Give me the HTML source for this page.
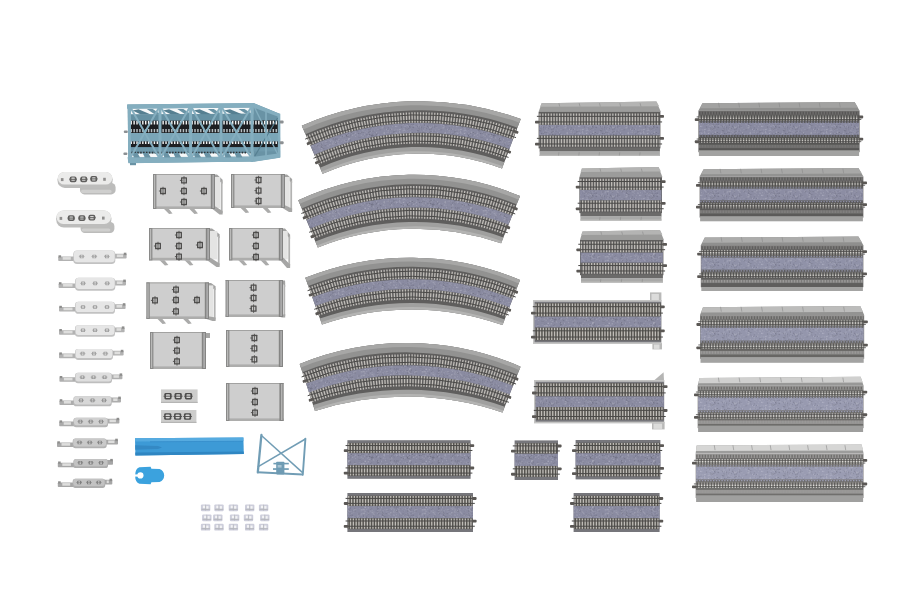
<!DOCTYPE html>
<html lang="en"><head><meta charset="utf-8"><title>Double-track viaduct set</title>
<style>html,body{margin:0;padding:0;background:#fff}body{width:900px;height:600px;overflow:hidden}svg{display:block}</style></head><body>
<svg width="900" height="600" viewBox="0 0 900 600">
<rect width="900" height="600" fill="#ffffff"/>
<defs><pattern id="speck" width="61" height="23" patternUnits="userSpaceOnUse"><rect x="19.43" y="3.32" width="1.2" height="1.2" fill="#ffffff" opacity="0.08"/><rect x="5.65" y="12.82" width="0.8" height="0.8" fill="#d0d0e6" opacity="0.1"/><rect x="26.02" y="1.54" width="0.8" height="0.8" fill="#ffffff" opacity="0.14"/><rect x="49.61" y="2.72" width="1.2" height="1.2" fill="#ffffff" opacity="0.15"/><rect x="56.86" y="12.7" width="0.8" height="0.8" fill="#20202c" opacity="0.08"/><rect x="2.79" y="18.89" width="1.2" height="1.2" fill="#20202c" opacity="0.12"/><rect x="7.07" y="6.79" width="1.2" height="1.2" fill="#ffffff" opacity="0.08"/><rect x="38.33" y="8.19" width="1.2" height="1.2" fill="#d0d0e6" opacity="0.16"/><rect x="3.58" y="4.53" width="1.0" height="1.0" fill="#d0d0e6" opacity="0.13"/><rect x="27.94" y="20.32" width="0.8" height="0.8" fill="#20202c" opacity="0.11"/><rect x="41.94" y="5.37" width="1.0" height="1.0" fill="#d0d0e6" opacity="0.11"/><rect x="52.51" y="16.05" width="0.8" height="0.8" fill="#20202c" opacity="0.15"/><rect x="7.08" y="9.2" width="1.0" height="1.0" fill="#20202c" opacity="0.09"/><rect x="25.3" y="21.16" width="1.2" height="1.2" fill="#ffffff" opacity="0.17"/><rect x="47.35" y="18" width="1.2" height="1.2" fill="#20202c" opacity="0.16"/><rect x="29.8" y="17.53" width="1.0" height="1.0" fill="#ffffff" opacity="0.18"/><rect x="28.45" y="14.61" width="1.0" height="1.0" fill="#ffffff" opacity="0.17"/><rect x="38.83" y="21.85" width="1.0" height="1.0" fill="#20202c" opacity="0.11"/><rect x="53.22" y="7.63" width="1.2" height="1.2" fill="#20202c" opacity="0.12"/><rect x="7.03" y="1.3" width="0.8" height="0.8" fill="#20202c" opacity="0.09"/><rect x="23.87" y="20.17" width="1.0" height="1.0" fill="#20202c" opacity="0.08"/><rect x="24.1" y="6.11" width="1.2" height="1.2" fill="#ffffff" opacity="0.18"/><rect x="16.71" y="9.14" width="1.0" height="1.0" fill="#20202c" opacity="0.16"/><rect x="57.46" y="3.32" width="1.2" height="1.2" fill="#ffffff" opacity="0.09"/><rect x="14" y="10.67" width="1.0" height="1.0" fill="#d0d0e6" opacity="0.09"/><rect x="0.25" y="9.22" width="1.0" height="1.0" fill="#20202c" opacity="0.15"/><rect x="57.19" y="15.19" width="1.2" height="1.2" fill="#d0d0e6" opacity="0.19"/><rect x="40.57" y="1.19" width="1.0" height="1.0" fill="#d0d0e6" opacity="0.12"/><rect x="23.65" y="10.59" width="0.8" height="0.8" fill="#20202c" opacity="0.08"/><rect x="59.08" y="9.69" width="0.8" height="0.8" fill="#ffffff" opacity="0.11"/><rect x="6.14" y="12.47" width="1.0" height="1.0" fill="#d0d0e6" opacity="0.08"/><rect x="36.82" y="1.55" width="0.8" height="0.8" fill="#ffffff" opacity="0.15"/><rect x="38.06" y="21.02" width="0.8" height="0.8" fill="#d0d0e6" opacity="0.12"/><rect x="6.92" y="10.74" width="1.0" height="1.0" fill="#20202c" opacity="0.13"/><rect x="5.15" y="2.25" width="1.0" height="1.0" fill="#20202c" opacity="0.17"/><rect x="49.73" y="3.55" width="1.2" height="1.2" fill="#ffffff" opacity="0.1"/><rect x="21.71" y="15.18" width="1.0" height="1.0" fill="#ffffff" opacity="0.17"/><rect x="58.71" y="18.99" width="0.8" height="0.8" fill="#20202c" opacity="0.14"/><rect x="21.34" y="4.9" width="1.0" height="1.0" fill="#d0d0e6" opacity="0.17"/><rect x="38.19" y="13.49" width="1.0" height="1.0" fill="#ffffff" opacity="0.17"/><rect x="44.39" y="4.99" width="1.2" height="1.2" fill="#d0d0e6" opacity="0.13"/><rect x="1.74" y="0.61" width="0.8" height="0.8" fill="#20202c" opacity="0.13"/><rect x="41.55" y="21.04" width="1.2" height="1.2" fill="#20202c" opacity="0.18"/><rect x="59.28" y="21.01" width="0.8" height="0.8" fill="#20202c" opacity="0.08"/><rect x="13.61" y="4.33" width="1.2" height="1.2" fill="#ffffff" opacity="0.13"/><rect x="50.43" y="10.55" width="0.8" height="0.8" fill="#20202c" opacity="0.17"/><rect x="50.08" y="2.64" width="0.8" height="0.8" fill="#20202c" opacity="0.17"/><rect x="28.68" y="3.93" width="1.2" height="1.2" fill="#20202c" opacity="0.08"/><rect x="23.75" y="8.83" width="0.8" height="0.8" fill="#ffffff" opacity="0.16"/><rect x="59.59" y="0.61" width="1.2" height="1.2" fill="#d0d0e6" opacity="0.19"/><rect x="8.77" y="18.18" width="1.0" height="1.0" fill="#20202c" opacity="0.16"/><rect x="9.35" y="12.06" width="1.2" height="1.2" fill="#ffffff" opacity="0.07"/><rect x="38.98" y="11.58" width="0.8" height="0.8" fill="#ffffff" opacity="0.13"/><rect x="49.57" y="4.64" width="1.2" height="1.2" fill="#20202c" opacity="0.1"/><rect x="14.43" y="12.9" width="0.8" height="0.8" fill="#20202c" opacity="0.14"/><rect x="3.65" y="16.28" width="1.2" height="1.2" fill="#20202c" opacity="0.16"/><rect x="25.24" y="20.19" width="0.8" height="0.8" fill="#d0d0e6" opacity="0.09"/><rect x="31.41" y="0.41" width="1.2" height="1.2" fill="#20202c" opacity="0.17"/><rect x="0.24" y="17.58" width="1.2" height="1.2" fill="#ffffff" opacity="0.09"/><rect x="43.51" y="12.24" width="1.2" height="1.2" fill="#20202c" opacity="0.16"/><rect x="33.33" y="17.25" width="0.8" height="0.8" fill="#ffffff" opacity="0.18"/><rect x="14.91" y="6.09" width="1.2" height="1.2" fill="#ffffff" opacity="0.14"/><rect x="1.67" y="19.67" width="1.2" height="1.2" fill="#ffffff" opacity="0.13"/><rect x="58.4" y="13.34" width="1.0" height="1.0" fill="#ffffff" opacity="0.16"/><rect x="30.49" y="17.76" width="1.2" height="1.2" fill="#d0d0e6" opacity="0.19"/><rect x="31.39" y="19.27" width="0.8" height="0.8" fill="#20202c" opacity="0.19"/><rect x="50.4" y="3.02" width="1.0" height="1.0" fill="#ffffff" opacity="0.12"/><rect x="4.35" y="5.29" width="1.0" height="1.0" fill="#ffffff" opacity="0.1"/><rect x="47.04" y="19.73" width="1.2" height="1.2" fill="#ffffff" opacity="0.19"/><rect x="39.62" y="3.15" width="0.8" height="0.8" fill="#ffffff" opacity="0.2"/><rect x="44.8" y="2.07" width="1.2" height="1.2" fill="#20202c" opacity="0.09"/><rect x="49.95" y="3.55" width="1.0" height="1.0" fill="#20202c" opacity="0.2"/><rect x="20.35" y="4.31" width="1.0" height="1.0" fill="#20202c" opacity="0.08"/><rect x="1.17" y="12.19" width="1.0" height="1.0" fill="#20202c" opacity="0.16"/><rect x="19.89" y="13.73" width="0.8" height="0.8" fill="#d0d0e6" opacity="0.19"/><rect x="59.1" y="17.34" width="1.0" height="1.0" fill="#ffffff" opacity="0.08"/><rect x="2.38" y="17.14" width="1.0" height="1.0" fill="#20202c" opacity="0.17"/><rect x="50.98" y="14.87" width="1.2" height="1.2" fill="#20202c" opacity="0.12"/><rect x="55.15" y="12.55" width="0.8" height="0.8" fill="#20202c" opacity="0.08"/><rect x="47.98" y="4.03" width="0.8" height="0.8" fill="#ffffff" opacity="0.1"/><rect x="38.07" y="17.64" width="0.8" height="0.8" fill="#ffffff" opacity="0.15"/><rect x="4" y="18.98" width="1.2" height="1.2" fill="#20202c" opacity="0.07"/><rect x="25.07" y="20.14" width="1.2" height="1.2" fill="#d0d0e6" opacity="0.09"/><rect x="42.57" y="20.64" width="0.8" height="0.8" fill="#ffffff" opacity="0.1"/><rect x="12.11" y="6.86" width="0.8" height="0.8" fill="#20202c" opacity="0.14"/><rect x="17.4" y="11" width="0.8" height="0.8" fill="#ffffff" opacity="0.11"/><rect x="59.67" y="0.81" width="1.2" height="1.2" fill="#ffffff" opacity="0.17"/><rect x="58.68" y="11.31" width="0.8" height="0.8" fill="#ffffff" opacity="0.19"/><rect x="39.5" y="14.3" width="1.0" height="1.0" fill="#20202c" opacity="0.14"/><rect x="58.22" y="6.77" width="1.0" height="1.0" fill="#ffffff" opacity="0.2"/><rect x="11.92" y="19.4" width="1.0" height="1.0" fill="#ffffff" opacity="0.12"/><rect x="58.91" y="18.41" width="1.2" height="1.2" fill="#ffffff" opacity="0.08"/><rect x="52.79" y="9.48" width="1.0" height="1.0" fill="#ffffff" opacity="0.08"/><rect x="52.23" y="14.75" width="1.2" height="1.2" fill="#20202c" opacity="0.15"/><rect x="17.58" y="10.11" width="0.8" height="0.8" fill="#ffffff" opacity="0.1"/><rect x="15.79" y="21.16" width="0.8" height="0.8" fill="#d0d0e6" opacity="0.11"/><rect x="57.94" y="6.81" width="1.0" height="1.0" fill="#20202c" opacity="0.09"/><rect x="22.9" y="10.44" width="0.8" height="0.8" fill="#d0d0e6" opacity="0.16"/><rect x="30.28" y="0.11" width="0.8" height="0.8" fill="#20202c" opacity="0.18"/><rect x="23.97" y="0.92" width="1.2" height="1.2" fill="#ffffff" opacity="0.11"/><rect x="13.97" y="12.88" width="0.8" height="0.8" fill="#d0d0e6" opacity="0.18"/><rect x="39.45" y="15.75" width="1.0" height="1.0" fill="#d0d0e6" opacity="0.12"/><rect x="43.24" y="10.87" width="1.2" height="1.2" fill="#20202c" opacity="0.16"/><rect x="8.69" y="18.15" width="1.2" height="1.2" fill="#d0d0e6" opacity="0.15"/><rect x="42.06" y="11.12" width="1.2" height="1.2" fill="#d0d0e6" opacity="0.17"/><rect x="50.1" y="17.7" width="1.2" height="1.2" fill="#d0d0e6" opacity="0.17"/><rect x="40.97" y="15.25" width="0.8" height="0.8" fill="#ffffff" opacity="0.08"/><rect x="7.99" y="7.94" width="1.0" height="1.0" fill="#ffffff" opacity="0.12"/><rect x="33.51" y="13.81" width="1.0" height="1.0" fill="#d0d0e6" opacity="0.16"/><rect x="15.83" y="10.05" width="1.2" height="1.2" fill="#ffffff" opacity="0.17"/><rect x="53.87" y="2.02" width="1.2" height="1.2" fill="#d0d0e6" opacity="0.08"/><rect x="28.43" y="17.8" width="0.8" height="0.8" fill="#20202c" opacity="0.1"/><rect x="13.84" y="14.3" width="1.0" height="1.0" fill="#20202c" opacity="0.13"/><rect x="4.6" y="20.03" width="1.2" height="1.2" fill="#20202c" opacity="0.17"/><rect x="37.97" y="4.36" width="1.0" height="1.0" fill="#d0d0e6" opacity="0.09"/><rect x="39.09" y="15.24" width="0.8" height="0.8" fill="#d0d0e6" opacity="0.14"/><rect x="28.95" y="10.69" width="1.2" height="1.2" fill="#ffffff" opacity="0.16"/><rect x="29.38" y="15.6" width="1.0" height="1.0" fill="#20202c" opacity="0.13"/><rect x="46.03" y="21.85" width="0.8" height="0.8" fill="#d0d0e6" opacity="0.1"/><rect x="56.18" y="0.39" width="1.2" height="1.2" fill="#20202c" opacity="0.08"/><rect x="58.09" y="9.89" width="0.8" height="0.8" fill="#20202c" opacity="0.12"/><rect x="4.48" y="1.99" width="1.0" height="1.0" fill="#d0d0e6" opacity="0.1"/><rect x="7.96" y="18.04" width="0.8" height="0.8" fill="#d0d0e6" opacity="0.11"/><rect x="42.2" y="5.09" width="0.8" height="0.8" fill="#20202c" opacity="0.12"/><rect x="0.22" y="10.82" width="1.2" height="1.2" fill="#20202c" opacity="0.12"/><rect x="8.44" y="7.57" width="1.0" height="1.0" fill="#20202c" opacity="0.09"/><rect x="0.1" y="16.52" width="0.8" height="0.8" fill="#20202c" opacity="0.09"/><rect x="42.78" y="19.83" width="0.8" height="0.8" fill="#20202c" opacity="0.1"/><rect x="23.57" y="21.97" width="1.0" height="1.0" fill="#d0d0e6" opacity="0.08"/><rect x="45.34" y="18.79" width="1.2" height="1.2" fill="#20202c" opacity="0.08"/><rect x="17.14" y="20.58" width="1.0" height="1.0" fill="#ffffff" opacity="0.2"/><rect x="30.66" y="4.18" width="1.0" height="1.0" fill="#20202c" opacity="0.17"/><rect x="53.06" y="17.86" width="1.2" height="1.2" fill="#20202c" opacity="0.19"/><rect x="32.95" y="15.83" width="1.0" height="1.0" fill="#ffffff" opacity="0.19"/><rect x="27.05" y="16.56" width="1.2" height="1.2" fill="#20202c" opacity="0.13"/><rect x="7.64" y="10.39" width="1.0" height="1.0" fill="#20202c" opacity="0.11"/><rect x="44.34" y="21.48" width="0.8" height="0.8" fill="#20202c" opacity="0.12"/><rect x="18.05" y="12.26" width="1.2" height="1.2" fill="#20202c" opacity="0.09"/><rect x="9.7" y="4.57" width="1.0" height="1.0" fill="#20202c" opacity="0.14"/><rect x="54.38" y="21.92" width="1.2" height="1.2" fill="#20202c" opacity="0.13"/><rect x="11.54" y="2" width="1.0" height="1.0" fill="#20202c" opacity="0.14"/><rect x="14.35" y="5.68" width="0.8" height="0.8" fill="#d0d0e6" opacity="0.1"/><rect x="44.98" y="9.08" width="0.8" height="0.8" fill="#20202c" opacity="0.17"/><rect x="22.61" y="7.44" width="1.2" height="1.2" fill="#ffffff" opacity="0.13"/><rect x="58.06" y="2.77" width="0.8" height="0.8" fill="#d0d0e6" opacity="0.14"/><rect x="5.56" y="19.73" width="1.0" height="1.0" fill="#20202c" opacity="0.12"/><rect x="25.91" y="6.86" width="1.0" height="1.0" fill="#ffffff" opacity="0.09"/><rect x="42.57" y="19.71" width="1.0" height="1.0" fill="#20202c" opacity="0.2"/><rect x="0.01" y="8.61" width="1.0" height="1.0" fill="#d0d0e6" opacity="0.18"/><rect x="14.91" y="2.4" width="1.2" height="1.2" fill="#ffffff" opacity="0.09"/><rect x="6.53" y="18.16" width="0.8" height="0.8" fill="#20202c" opacity="0.08"/><rect x="0.08" y="2.76" width="1.2" height="1.2" fill="#d0d0e6" opacity="0.19"/><rect x="42.9" y="21.17" width="1.0" height="1.0" fill="#20202c" opacity="0.14"/><rect x="41.91" y="2.47" width="1.2" height="1.2" fill="#ffffff" opacity="0.11"/><rect x="11.5" y="5.74" width="1.2" height="1.2" fill="#d0d0e6" opacity="0.07"/><rect x="18.09" y="10.14" width="0.8" height="0.8" fill="#20202c" opacity="0.15"/><rect x="28.52" y="5.16" width="1.0" height="1.0" fill="#ffffff" opacity="0.07"/><rect x="42.28" y="6.76" width="1.2" height="1.2" fill="#ffffff" opacity="0.1"/><rect x="38.83" y="1.78" width="1.0" height="1.0" fill="#ffffff" opacity="0.16"/><rect x="13.61" y="0.75" width="1.0" height="1.0" fill="#20202c" opacity="0.16"/><rect x="40.95" y="4.36" width="1.2" height="1.2" fill="#20202c" opacity="0.17"/><rect x="4.05" y="10.91" width="0.8" height="0.8" fill="#ffffff" opacity="0.11"/><rect x="13.85" y="4.87" width="1.2" height="1.2" fill="#20202c" opacity="0.08"/><rect x="29.75" y="4.12" width="1.2" height="1.2" fill="#ffffff" opacity="0.13"/><rect x="3.39" y="13.09" width="0.8" height="0.8" fill="#20202c" opacity="0.08"/><rect x="58.45" y="3.12" width="0.8" height="0.8" fill="#ffffff" opacity="0.16"/><rect x="23.6" y="19.76" width="0.8" height="0.8" fill="#20202c" opacity="0.17"/><rect x="55.9" y="7.24" width="1.2" height="1.2" fill="#ffffff" opacity="0.15"/><rect x="44.78" y="0.7" width="1.0" height="1.0" fill="#20202c" opacity="0.18"/><rect x="26.55" y="2.4" width="1.0" height="1.0" fill="#ffffff" opacity="0.11"/><rect x="25.21" y="19.47" width="0.8" height="0.8" fill="#d0d0e6" opacity="0.2"/><rect x="22.81" y="16.91" width="1.0" height="1.0" fill="#20202c" opacity="0.18"/><rect x="5.27" y="15.52" width="1.0" height="1.0" fill="#ffffff" opacity="0.12"/><rect x="11.58" y="8.01" width="1.0" height="1.0" fill="#20202c" opacity="0.07"/><rect x="14.88" y="13.76" width="0.8" height="0.8" fill="#20202c" opacity="0.08"/><rect x="27.84" y="17.67" width="1.2" height="1.2" fill="#ffffff" opacity="0.1"/><rect x="3.77" y="13.32" width="1.2" height="1.2" fill="#20202c" opacity="0.11"/><rect x="2.62" y="16.42" width="1.0" height="1.0" fill="#20202c" opacity="0.19"/><rect x="0.23" y="16.62" width="0.8" height="0.8" fill="#ffffff" opacity="0.07"/><rect x="6.44" y="15.74" width="1.0" height="1.0" fill="#20202c" opacity="0.19"/><rect x="47.39" y="20.1" width="1.0" height="1.0" fill="#20202c" opacity="0.09"/><rect x="10.98" y="17.66" width="0.8" height="0.8" fill="#20202c" opacity="0.18"/><rect x="36.44" y="7.21" width="1.2" height="1.2" fill="#20202c" opacity="0.13"/><rect x="4.74" y="4.34" width="0.8" height="0.8" fill="#ffffff" opacity="0.1"/><rect x="38.97" y="10.6" width="1.0" height="1.0" fill="#d0d0e6" opacity="0.11"/><rect x="53.01" y="21.73" width="0.8" height="0.8" fill="#20202c" opacity="0.15"/><rect x="5.79" y="10.97" width="0.8" height="0.8" fill="#20202c" opacity="0.09"/><rect x="25.01" y="13.65" width="1.2" height="1.2" fill="#ffffff" opacity="0.17"/><rect x="45.57" y="17.15" width="1.2" height="1.2" fill="#20202c" opacity="0.11"/><rect x="16.06" y="5.59" width="0.8" height="0.8" fill="#20202c" opacity="0.1"/><rect x="11.14" y="5.18" width="1.2" height="1.2" fill="#20202c" opacity="0.18"/><rect x="11.3" y="1.43" width="1.2" height="1.2" fill="#20202c" opacity="0.2"/><rect x="31.58" y="14.29" width="0.8" height="0.8" fill="#ffffff" opacity="0.15"/><rect x="6.14" y="10.44" width="1.0" height="1.0" fill="#ffffff" opacity="0.18"/><rect x="2.42" y="6.46" width="1.2" height="1.2" fill="#ffffff" opacity="0.08"/><rect x="58.38" y="12.83" width="0.8" height="0.8" fill="#ffffff" opacity="0.12"/><rect x="26.95" y="5.72" width="1.2" height="1.2" fill="#ffffff" opacity="0.08"/><rect x="42.58" y="7.69" width="0.8" height="0.8" fill="#ffffff" opacity="0.12"/><rect x="2.65" y="22" width="1.2" height="1.2" fill="#ffffff" opacity="0.15"/><rect x="54.84" y="17.92" width="1.0" height="1.0" fill="#20202c" opacity="0.12"/><rect x="11.11" y="6.87" width="1.0" height="1.0" fill="#ffffff" opacity="0.07"/><rect x="32.88" y="1.39" width="1.2" height="1.2" fill="#ffffff" opacity="0.17"/><rect x="33.01" y="14.06" width="1.0" height="1.0" fill="#ffffff" opacity="0.15"/><rect x="41.72" y="9.02" width="1.0" height="1.0" fill="#20202c" opacity="0.16"/><rect x="57.19" y="6.87" width="1.0" height="1.0" fill="#d0d0e6" opacity="0.18"/><rect x="24.99" y="19.01" width="1.0" height="1.0" fill="#20202c" opacity="0.15"/><rect x="43.68" y="4.48" width="0.8" height="0.8" fill="#ffffff" opacity="0.13"/><rect x="25.43" y="18.05" width="1.0" height="1.0" fill="#20202c" opacity="0.15"/><rect x="27.65" y="3.58" width="0.8" height="0.8" fill="#ffffff" opacity="0.08"/><rect x="38.44" y="20.02" width="1.0" height="1.0" fill="#ffffff" opacity="0.14"/><rect x="44.23" y="3.78" width="1.2" height="1.2" fill="#20202c" opacity="0.11"/><rect x="10.31" y="1.48" width="0.8" height="0.8" fill="#20202c" opacity="0.13"/><rect x="18.1" y="18.42" width="1.0" height="1.0" fill="#ffffff" opacity="0.2"/><rect x="18.87" y="13.37" width="1.2" height="1.2" fill="#20202c" opacity="0.08"/><rect x="37.22" y="18.14" width="0.8" height="0.8" fill="#ffffff" opacity="0.15"/><rect x="37.26" y="13.52" width="0.8" height="0.8" fill="#ffffff" opacity="0.18"/><rect x="33.93" y="0.92" width="1.0" height="1.0" fill="#d0d0e6" opacity="0.09"/><rect x="7.38" y="5.44" width="1.2" height="1.2" fill="#ffffff" opacity="0.08"/><rect x="50.55" y="14.79" width="1.2" height="1.2" fill="#20202c" opacity="0.09"/><rect x="27.34" y="18.68" width="1.0" height="1.0" fill="#20202c" opacity="0.15"/><rect x="34.96" y="9.37" width="1.0" height="1.0" fill="#20202c" opacity="0.13"/><rect x="10.73" y="0.08" width="1.0" height="1.0" fill="#20202c" opacity="0.13"/><rect x="45.81" y="17.16" width="1.0" height="1.0" fill="#20202c" opacity="0.18"/><rect x="24.02" y="1.48" width="0.8" height="0.8" fill="#20202c" opacity="0.13"/><rect x="48.14" y="11.1" width="0.8" height="0.8" fill="#ffffff" opacity="0.08"/><rect x="4.93" y="16.14" width="1.2" height="1.2" fill="#d0d0e6" opacity="0.08"/><rect x="53.69" y="14.36" width="0.8" height="0.8" fill="#ffffff" opacity="0.07"/><rect x="59.77" y="16.11" width="1.0" height="1.0" fill="#ffffff" opacity="0.1"/><rect x="17.27" y="17.84" width="1.2" height="1.2" fill="#ffffff" opacity="0.16"/><rect x="55.84" y="1.44" width="1.0" height="1.0" fill="#20202c" opacity="0.15"/><rect x="9.53" y="19.72" width="1.0" height="1.0" fill="#20202c" opacity="0.19"/><rect x="8.61" y="11.05" width="1.0" height="1.0" fill="#20202c" opacity="0.1"/><rect x="36.95" y="5.22" width="0.8" height="0.8" fill="#20202c" opacity="0.07"/><rect x="24.21" y="14" width="1.0" height="1.0" fill="#20202c" opacity="0.16"/><rect x="10.12" y="17.27" width="0.8" height="0.8" fill="#ffffff" opacity="0.17"/><rect x="38.18" y="7.92" width="1.2" height="1.2" fill="#20202c" opacity="0.14"/><rect x="41.32" y="19.71" width="1.2" height="1.2" fill="#20202c" opacity="0.2"/><rect x="51.4" y="16.23" width="1.0" height="1.0" fill="#20202c" opacity="0.1"/><rect x="34.64" y="7.93" width="0.8" height="0.8" fill="#ffffff" opacity="0.13"/><rect x="36.92" y="21.08" width="1.0" height="1.0" fill="#20202c" opacity="0.18"/><rect x="18.6" y="21.25" width="1.0" height="1.0" fill="#d0d0e6" opacity="0.19"/><rect x="43.98" y="16.44" width="1.2" height="1.2" fill="#ffffff" opacity="0.09"/><rect x="37.54" y="9.19" width="0.8" height="0.8" fill="#20202c" opacity="0.19"/><rect x="29.3" y="13.48" width="0.8" height="0.8" fill="#ffffff" opacity="0.07"/><rect x="34.03" y="6.68" width="0.8" height="0.8" fill="#d0d0e6" opacity="0.12"/><rect x="24.79" y="6.63" width="1.2" height="1.2" fill="#ffffff" opacity="0.1"/><rect x="49.71" y="3.49" width="0.8" height="0.8" fill="#ffffff" opacity="0.19"/><rect x="42.45" y="9.92" width="1.2" height="1.2" fill="#ffffff" opacity="0.15"/><rect x="46.93" y="8.84" width="0.8" height="0.8" fill="#20202c" opacity="0.2"/><rect x="38.7" y="12.37" width="1.2" height="1.2" fill="#20202c" opacity="0.15"/><rect x="26.63" y="20.62" width="0.8" height="0.8" fill="#20202c" opacity="0.1"/><rect x="2.64" y="11.69" width="0.8" height="0.8" fill="#20202c" opacity="0.09"/><rect x="3.5" y="17.14" width="1.2" height="1.2" fill="#ffffff" opacity="0.15"/><rect x="56.46" y="3.13" width="1.2" height="1.2" fill="#ffffff" opacity="0.14"/><rect x="30.42" y="14.11" width="1.0" height="1.0" fill="#d0d0e6" opacity="0.09"/><rect x="3.83" y="13.77" width="0.8" height="0.8" fill="#20202c" opacity="0.16"/><rect x="22.51" y="9.61" width="1.2" height="1.2" fill="#20202c" opacity="0.08"/><rect x="27.15" y="4.97" width="1.2" height="1.2" fill="#ffffff" opacity="0.1"/><rect x="2.33" y="7.38" width="1.0" height="1.0" fill="#20202c" opacity="0.16"/><rect x="38.15" y="14.94" width="1.0" height="1.0" fill="#d0d0e6" opacity="0.2"/><rect x="38.52" y="21.23" width="1.2" height="1.2" fill="#ffffff" opacity="0.08"/><rect x="0.91" y="5.73" width="0.8" height="0.8" fill="#ffffff" opacity="0.18"/><rect x="56.68" y="16.42" width="1.0" height="1.0" fill="#20202c" opacity="0.09"/><rect x="19.71" y="5.26" width="1.2" height="1.2" fill="#d0d0e6" opacity="0.13"/><rect x="41.86" y="18.87" width="0.8" height="0.8" fill="#20202c" opacity="0.19"/><rect x="34.22" y="6.77" width="1.2" height="1.2" fill="#ffffff" opacity="0.12"/><rect x="4.67" y="20.04" width="0.8" height="0.8" fill="#ffffff" opacity="0.07"/><rect x="6.4" y="20.44" width="1.2" height="1.2" fill="#20202c" opacity="0.2"/><rect x="1.72" y="0.92" width="1.2" height="1.2" fill="#ffffff" opacity="0.16"/><rect x="2.8" y="18.84" width="1.2" height="1.2" fill="#20202c" opacity="0.1"/><rect x="53.48" y="1.45" width="0.8" height="0.8" fill="#20202c" opacity="0.08"/><rect x="12.19" y="0.74" width="1.2" height="1.2" fill="#ffffff" opacity="0.18"/><rect x="37.94" y="10.5" width="1.2" height="1.2" fill="#ffffff" opacity="0.08"/><rect x="12.3" y="7.02" width="1.0" height="1.0" fill="#20202c" opacity="0.1"/><rect x="15.4" y="6.22" width="1.2" height="1.2" fill="#20202c" opacity="0.19"/><rect x="30.22" y="18.73" width="1.0" height="1.0" fill="#d0d0e6" opacity="0.17"/><rect x="1.87" y="11.41" width="1.2" height="1.2" fill="#ffffff" opacity="0.12"/><rect x="2.89" y="12.45" width="1.0" height="1.0" fill="#ffffff" opacity="0.14"/><rect x="10.22" y="0.03" width="0.8" height="0.8" fill="#ffffff" opacity="0.11"/><rect x="0.26" y="10.8" width="0.8" height="0.8" fill="#20202c" opacity="0.16"/><rect x="58.03" y="13.04" width="0.8" height="0.8" fill="#d0d0e6" opacity="0.1"/><rect x="17.02" y="4.72" width="0.8" height="0.8" fill="#ffffff" opacity="0.13"/><rect x="56.32" y="16.87" width="1.2" height="1.2" fill="#20202c" opacity="0.17"/><rect x="33.68" y="2.3" width="1.0" height="1.0" fill="#20202c" opacity="0.12"/><rect x="55.71" y="19.62" width="1.2" height="1.2" fill="#ffffff" opacity="0.12"/><rect x="1.51" y="4.53" width="1.2" height="1.2" fill="#20202c" opacity="0.13"/><rect x="30.07" y="8.34" width="0.8" height="0.8" fill="#ffffff" opacity="0.19"/><rect x="31.89" y="16.6" width="1.0" height="1.0" fill="#d0d0e6" opacity="0.15"/><rect x="34.89" y="11.48" width="1.2" height="1.2" fill="#20202c" opacity="0.16"/><rect x="19.4" y="10.19" width="0.8" height="0.8" fill="#20202c" opacity="0.15"/><rect x="20.04" y="14.14" width="1.0" height="1.0" fill="#ffffff" opacity="0.14"/><rect x="18.09" y="15.47" width="0.8" height="0.8" fill="#d0d0e6" opacity="0.09"/><rect x="58.49" y="15.91" width="0.8" height="0.8" fill="#d0d0e6" opacity="0.14"/><rect x="14.17" y="21.03" width="1.2" height="1.2" fill="#20202c" opacity="0.2"/><rect x="59.7" y="3.62" width="0.8" height="0.8" fill="#ffffff" opacity="0.1"/><rect x="59.03" y="17.49" width="0.8" height="0.8" fill="#20202c" opacity="0.13"/><rect x="6.56" y="20.05" width="1.0" height="1.0" fill="#20202c" opacity="0.1"/><rect x="27.83" y="0.28" width="1.2" height="1.2" fill="#20202c" opacity="0.16"/><rect x="58.85" y="6.52" width="1.2" height="1.2" fill="#ffffff" opacity="0.09"/><rect x="44.29" y="0.12" width="1.0" height="1.0" fill="#ffffff" opacity="0.19"/><rect x="42.07" y="12.92" width="1.2" height="1.2" fill="#20202c" opacity="0.18"/><rect x="43.33" y="19.36" width="1.2" height="1.2" fill="#d0d0e6" opacity="0.18"/><rect x="10.89" y="2.73" width="1.2" height="1.2" fill="#20202c" opacity="0.11"/><rect x="42.04" y="19.68" width="1.2" height="1.2" fill="#ffffff" opacity="0.17"/><rect x="42.76" y="3.44" width="0.8" height="0.8" fill="#20202c" opacity="0.13"/><rect x="37.29" y="9.01" width="1.0" height="1.0" fill="#ffffff" opacity="0.19"/><rect x="46.69" y="8.55" width="0.8" height="0.8" fill="#20202c" opacity="0.19"/><rect x="2.29" y="11.95" width="0.8" height="0.8" fill="#ffffff" opacity="0.16"/><rect x="31.15" y="2.22" width="0.8" height="0.8" fill="#d0d0e6" opacity="0.13"/><rect x="43.04" y="11.27" width="1.0" height="1.0" fill="#20202c" opacity="0.14"/><rect x="44.53" y="10.05" width="0.8" height="0.8" fill="#ffffff" opacity="0.12"/><rect x="43.75" y="13.51" width="1.0" height="1.0" fill="#ffffff" opacity="0.1"/><rect x="23.98" y="0.29" width="1.2" height="1.2" fill="#20202c" opacity="0.19"/><rect x="41.9" y="7.75" width="1.0" height="1.0" fill="#20202c" opacity="0.08"/><rect x="44.49" y="20.68" width="1.0" height="1.0" fill="#d0d0e6" opacity="0.2"/><rect x="27.73" y="3.62" width="1.2" height="1.2" fill="#ffffff" opacity="0.18"/><rect x="11.59" y="14.13" width="0.8" height="0.8" fill="#ffffff" opacity="0.18"/><rect x="21.19" y="14.05" width="1.0" height="1.0" fill="#20202c" opacity="0.13"/><rect x="45.59" y="14.29" width="0.8" height="0.8" fill="#20202c" opacity="0.12"/><rect x="16.05" y="8.28" width="1.2" height="1.2" fill="#20202c" opacity="0.2"/><rect x="11.15" y="0.06" width="1.2" height="1.2" fill="#20202c" opacity="0.12"/><rect x="18.11" y="10.55" width="0.8" height="0.8" fill="#20202c" opacity="0.15"/><rect x="39.56" y="7.97" width="0.8" height="0.8" fill="#20202c" opacity="0.18"/><rect x="5.12" y="12.42" width="0.8" height="0.8" fill="#20202c" opacity="0.17"/><rect x="31.84" y="7.59" width="0.8" height="0.8" fill="#d0d0e6" opacity="0.07"/><rect x="12.58" y="1.58" width="0.8" height="0.8" fill="#20202c" opacity="0.1"/><rect x="34.71" y="18.79" width="1.0" height="1.0" fill="#ffffff" opacity="0.17"/><rect x="47.09" y="4.59" width="0.8" height="0.8" fill="#20202c" opacity="0.17"/><rect x="36.57" y="15.14" width="1.2" height="1.2" fill="#ffffff" opacity="0.16"/><rect x="47.28" y="18.45" width="0.8" height="0.8" fill="#ffffff" opacity="0.13"/><rect x="31.85" y="16.32" width="0.8" height="0.8" fill="#20202c" opacity="0.16"/><rect x="33.3" y="5.82" width="1.0" height="1.0" fill="#ffffff" opacity="0.18"/><rect x="29.58" y="1.29" width="1.2" height="1.2" fill="#20202c" opacity="0.19"/><rect x="29.48" y="10.96" width="1.2" height="1.2" fill="#d0d0e6" opacity="0.15"/><rect x="0.4" y="18.5" width="1.0" height="1.0" fill="#20202c" opacity="0.16"/><rect x="39.92" y="18.49" width="1.2" height="1.2" fill="#20202c" opacity="0.13"/><rect x="4.52" y="14.01" width="0.8" height="0.8" fill="#ffffff" opacity="0.07"/><rect x="40.96" y="20.49" width="0.8" height="0.8" fill="#20202c" opacity="0.18"/><rect x="30.64" y="10.66" width="1.2" height="1.2" fill="#ffffff" opacity="0.07"/><rect x="24.94" y="2.79" width="1.0" height="1.0" fill="#ffffff" opacity="0.18"/><rect x="20.48" y="17.13" width="0.8" height="0.8" fill="#d0d0e6" opacity="0.17"/><rect x="17.05" y="7.52" width="1.0" height="1.0" fill="#20202c" opacity="0.14"/><rect x="17.57" y="18.21" width="1.0" height="1.0" fill="#20202c" opacity="0.11"/><rect x="52.38" y="7.59" width="0.8" height="0.8" fill="#ffffff" opacity="0.16"/><rect x="19.85" y="6.98" width="1.2" height="1.2" fill="#20202c" opacity="0.09"/><rect x="5.25" y="21.92" width="1.0" height="1.0" fill="#20202c" opacity="0.16"/><rect x="32.72" y="1.09" width="0.8" height="0.8" fill="#20202c" opacity="0.08"/><rect x="11.4" y="20.27" width="0.8" height="0.8" fill="#d0d0e6" opacity="0.17"/><rect x="47.34" y="20.02" width="0.8" height="0.8" fill="#d0d0e6" opacity="0.12"/><rect x="37.61" y="15.32" width="0.8" height="0.8" fill="#d0d0e6" opacity="0.18"/><rect x="12.75" y="14.67" width="0.8" height="0.8" fill="#20202c" opacity="0.15"/><rect x="6.08" y="3.99" width="0.8" height="0.8" fill="#ffffff" opacity="0.12"/><rect x="54.84" y="14.43" width="0.8" height="0.8" fill="#20202c" opacity="0.18"/><rect x="47.19" y="12.37" width="0.8" height="0.8" fill="#20202c" opacity="0.18"/><rect x="25.31" y="7.01" width="1.2" height="1.2" fill="#20202c" opacity="0.14"/><rect x="56.03" y="1.2" width="0.8" height="0.8" fill="#d0d0e6" opacity="0.14"/><rect x="46.43" y="9.26" width="0.8" height="0.8" fill="#20202c" opacity="0.13"/><rect x="40.8" y="13.06" width="1.0" height="1.0" fill="#ffffff" opacity="0.13"/><rect x="32.93" y="1.82" width="0.8" height="0.8" fill="#20202c" opacity="0.1"/><rect x="37.61" y="9.39" width="0.8" height="0.8" fill="#ffffff" opacity="0.16"/><rect x="59.2" y="18.89" width="0.8" height="0.8" fill="#ffffff" opacity="0.18"/><rect x="28.34" y="6.06" width="1.2" height="1.2" fill="#d0d0e6" opacity="0.1"/><rect x="44.65" y="20.3" width="1.2" height="1.2" fill="#20202c" opacity="0.17"/><rect x="41.69" y="3.19" width="1.2" height="1.2" fill="#ffffff" opacity="0.11"/><rect x="42.55" y="10.13" width="0.8" height="0.8" fill="#20202c" opacity="0.19"/><rect x="43.03" y="0.25" width="1.2" height="1.2" fill="#ffffff" opacity="0.18"/><rect x="49.04" y="1.75" width="1.2" height="1.2" fill="#20202c" opacity="0.11"/><rect x="9.96" y="18.94" width="1.0" height="1.0" fill="#20202c" opacity="0.15"/><rect x="22.05" y="12.65" width="0.8" height="0.8" fill="#20202c" opacity="0.13"/><rect x="8.69" y="17.54" width="0.8" height="0.8" fill="#20202c" opacity="0.19"/><rect x="37.78" y="9.2" width="1.0" height="1.0" fill="#20202c" opacity="0.17"/><rect x="56.7" y="17.26" width="1.0" height="1.0" fill="#d0d0e6" opacity="0.11"/><rect x="3.64" y="21.43" width="1.2" height="1.2" fill="#d0d0e6" opacity="0.11"/><rect x="43.54" y="0.34" width="1.0" height="1.0" fill="#ffffff" opacity="0.15"/><rect x="35.08" y="21.48" width="1.2" height="1.2" fill="#ffffff" opacity="0.12"/><rect x="22.57" y="16.97" width="1.0" height="1.0" fill="#ffffff" opacity="0.17"/><rect x="41.31" y="7.07" width="1.2" height="1.2" fill="#20202c" opacity="0.12"/><rect x="55.24" y="16.79" width="0.8" height="0.8" fill="#ffffff" opacity="0.11"/><rect x="48.71" y="19.08" width="1.2" height="1.2" fill="#d0d0e6" opacity="0.09"/><rect x="41.08" y="20.1" width="1.2" height="1.2" fill="#20202c" opacity="0.14"/><rect x="33.22" y="17.54" width="1.2" height="1.2" fill="#ffffff" opacity="0.17"/><rect x="55.9" y="5.15" width="1.0" height="1.0" fill="#d0d0e6" opacity="0.08"/><rect x="27.92" y="4.54" width="0.8" height="0.8" fill="#20202c" opacity="0.15"/><rect x="47.5" y="10.11" width="1.0" height="1.0" fill="#ffffff" opacity="0.14"/><rect x="46.33" y="5.12" width="1.0" height="1.0" fill="#d0d0e6" opacity="0.14"/><rect x="53.11" y="11.48" width="0.8" height="0.8" fill="#20202c" opacity="0.14"/><rect x="11.35" y="4.23" width="1.0" height="1.0" fill="#ffffff" opacity="0.17"/><rect x="21.77" y="12.42" width="0.8" height="0.8" fill="#20202c" opacity="0.17"/><rect x="14.78" y="20.3" width="0.8" height="0.8" fill="#20202c" opacity="0.12"/><rect x="22.3" y="10.2" width="1.2" height="1.2" fill="#ffffff" opacity="0.09"/><rect x="1.82" y="6.17" width="0.8" height="0.8" fill="#d0d0e6" opacity="0.07"/><rect x="12.28" y="19.16" width="1.2" height="1.2" fill="#d0d0e6" opacity="0.13"/><rect x="12.81" y="20.36" width="1.0" height="1.0" fill="#20202c" opacity="0.13"/><rect x="46.03" y="18.01" width="0.8" height="0.8" fill="#ffffff" opacity="0.1"/><rect x="20.33" y="21.88" width="0.8" height="0.8" fill="#20202c" opacity="0.08"/><rect x="2.09" y="8.13" width="0.8" height="0.8" fill="#20202c" opacity="0.13"/><rect x="51.78" y="14.08" width="0.8" height="0.8" fill="#ffffff" opacity="0.16"/><rect x="15.43" y="12.42" width="1.2" height="1.2" fill="#ffffff" opacity="0.19"/><rect x="30.39" y="4.02" width="0.8" height="0.8" fill="#ffffff" opacity="0.12"/><rect x="59.5" y="4.88" width="1.0" height="1.0" fill="#ffffff" opacity="0.19"/><rect x="3.56" y="12.16" width="0.8" height="0.8" fill="#ffffff" opacity="0.18"/><rect x="15.47" y="11.29" width="0.8" height="0.8" fill="#20202c" opacity="0.08"/><rect x="19.06" y="0.13" width="1.0" height="1.0" fill="#ffffff" opacity="0.16"/><rect x="35.39" y="9.71" width="1.0" height="1.0" fill="#ffffff" opacity="0.13"/><rect x="15.42" y="2.73" width="1.0" height="1.0" fill="#20202c" opacity="0.12"/><rect x="14.31" y="3.15" width="0.8" height="0.8" fill="#ffffff" opacity="0.13"/><rect x="47.93" y="3.45" width="1.2" height="1.2" fill="#ffffff" opacity="0.08"/><rect x="52.01" y="19.55" width="0.8" height="0.8" fill="#ffffff" opacity="0.17"/><rect x="55.56" y="8.47" width="1.0" height="1.0" fill="#ffffff" opacity="0.15"/><rect x="58.34" y="7.1" width="1.2" height="1.2" fill="#ffffff" opacity="0.13"/><rect x="21.96" y="7.3" width="1.0" height="1.0" fill="#ffffff" opacity="0.09"/><rect x="33.2" y="3.18" width="1.0" height="1.0" fill="#ffffff" opacity="0.1"/><rect x="14.81" y="0.56" width="1.0" height="1.0" fill="#d0d0e6" opacity="0.18"/><rect x="48.25" y="5.73" width="1.0" height="1.0" fill="#ffffff" opacity="0.11"/><rect x="6.85" y="21.53" width="1.2" height="1.2" fill="#ffffff" opacity="0.15"/><rect x="55.51" y="12.32" width="0.8" height="0.8" fill="#20202c" opacity="0.09"/><rect x="58.24" y="9.51" width="0.8" height="0.8" fill="#20202c" opacity="0.2"/><rect x="5.85" y="6.37" width="1.2" height="1.2" fill="#ffffff" opacity="0.08"/><rect x="58.71" y="3.18" width="1.2" height="1.2" fill="#ffffff" opacity="0.13"/><rect x="20.45" y="3.08" width="1.2" height="1.2" fill="#ffffff" opacity="0.17"/><rect x="17.18" y="7.92" width="0.8" height="0.8" fill="#ffffff" opacity="0.19"/><rect x="16.61" y="3.98" width="0.8" height="0.8" fill="#ffffff" opacity="0.14"/><rect x="42.7" y="4.33" width="1.2" height="1.2" fill="#ffffff" opacity="0.18"/><rect x="43.85" y="16.75" width="1.2" height="1.2" fill="#ffffff" opacity="0.1"/><rect x="40.19" y="13.83" width="0.8" height="0.8" fill="#ffffff" opacity="0.15"/><rect x="0.6" y="15.23" width="1.2" height="1.2" fill="#d0d0e6" opacity="0.12"/><rect x="54.97" y="11.41" width="1.2" height="1.2" fill="#20202c" opacity="0.11"/><rect x="51.87" y="10.85" width="1.0" height="1.0" fill="#ffffff" opacity="0.12"/><rect x="8" y="14.64" width="1.0" height="1.0" fill="#ffffff" opacity="0.09"/><rect x="2.2" y="15.45" width="0.8" height="0.8" fill="#d0d0e6" opacity="0.15"/><rect x="21.37" y="20.51" width="1.0" height="1.0" fill="#d0d0e6" opacity="0.08"/><rect x="42.88" y="17.96" width="1.0" height="1.0" fill="#20202c" opacity="0.17"/><rect x="34.58" y="19.76" width="1.2" height="1.2" fill="#20202c" opacity="0.18"/><rect x="29.69" y="11.29" width="0.8" height="0.8" fill="#d0d0e6" opacity="0.17"/><rect x="1.24" y="21.28" width="0.8" height="0.8" fill="#ffffff" opacity="0.15"/><rect x="6.16" y="5.51" width="1.2" height="1.2" fill="#ffffff" opacity="0.07"/><rect x="44.32" y="5.75" width="1.0" height="1.0" fill="#d0d0e6" opacity="0.15"/><rect x="31.37" y="15.46" width="0.8" height="0.8" fill="#ffffff" opacity="0.12"/><rect x="43.03" y="0.99" width="1.2" height="1.2" fill="#ffffff" opacity="0.13"/><rect x="30.05" y="6.15" width="0.8" height="0.8" fill="#ffffff" opacity="0.09"/><rect x="32.5" y="5" width="1.2" height="1.2" fill="#ffffff" opacity="0.09"/><rect x="27.72" y="8.73" width="1.0" height="1.0" fill="#ffffff" opacity="0.19"/><rect x="41.63" y="13.13" width="1.0" height="1.0" fill="#d0d0e6" opacity="0.14"/><rect x="58.23" y="1.14" width="0.8" height="0.8" fill="#20202c" opacity="0.11"/><rect x="50.31" y="15.74" width="1.0" height="1.0" fill="#d0d0e6" opacity="0.17"/><rect x="48.9" y="18.65" width="0.8" height="0.8" fill="#ffffff" opacity="0.11"/><rect x="57.47" y="20.56" width="1.2" height="1.2" fill="#ffffff" opacity="0.18"/><rect x="37.96" y="8.02" width="1.0" height="1.0" fill="#d0d0e6" opacity="0.09"/><rect x="25.98" y="11.11" width="1.0" height="1.0" fill="#ffffff" opacity="0.1"/><rect x="58.18" y="17.08" width="0.8" height="0.8" fill="#20202c" opacity="0.15"/><rect x="2.06" y="14.11" width="1.2" height="1.2" fill="#20202c" opacity="0.19"/><rect x="16.41" y="11.93" width="1.0" height="1.0" fill="#ffffff" opacity="0.15"/><rect x="7.3" y="0.3" width="1.0" height="1.0" fill="#ffffff" opacity="0.19"/><rect x="6.78" y="7.65" width="1.2" height="1.2" fill="#ffffff" opacity="0.09"/><rect x="57.54" y="20.26" width="1.2" height="1.2" fill="#20202c" opacity="0.08"/><rect x="32.03" y="3.26" width="1.0" height="1.0" fill="#ffffff" opacity="0.14"/><rect x="54.94" y="12.7" width="0.8" height="0.8" fill="#20202c" opacity="0.1"/><rect x="44.42" y="6.32" width="1.2" height="1.2" fill="#20202c" opacity="0.15"/><rect x="13.3" y="8.51" width="1.0" height="1.0" fill="#d0d0e6" opacity="0.16"/><rect x="53.51" y="6.68" width="1.0" height="1.0" fill="#20202c" opacity="0.13"/><rect x="1.86" y="7.34" width="1.0" height="1.0" fill="#ffffff" opacity="0.14"/><rect x="58.18" y="8.72" width="0.8" height="0.8" fill="#20202c" opacity="0.09"/><rect x="19.44" y="7.16" width="0.8" height="0.8" fill="#20202c" opacity="0.11"/><rect x="17.73" y="16.99" width="1.2" height="1.2" fill="#ffffff" opacity="0.14"/><rect x="52.28" y="9.68" width="1.0" height="1.0" fill="#ffffff" opacity="0.14"/><rect x="21.25" y="16.78" width="1.2" height="1.2" fill="#d0d0e6" opacity="0.1"/><rect x="44.32" y="3.4" width="0.8" height="0.8" fill="#20202c" opacity="0.16"/><rect x="40.52" y="13.56" width="1.2" height="1.2" fill="#20202c" opacity="0.18"/><rect x="5.7" y="18.84" width="1.2" height="1.2" fill="#20202c" opacity="0.1"/><rect x="42.51" y="20.12" width="0.8" height="0.8" fill="#ffffff" opacity="0.12"/><rect x="0.26" y="16.84" width="1.0" height="1.0" fill="#d0d0e6" opacity="0.09"/><rect x="57.76" y="12.58" width="1.0" height="1.0" fill="#20202c" opacity="0.18"/><rect x="52.37" y="13.36" width="1.2" height="1.2" fill="#20202c" opacity="0.18"/><rect x="27.47" y="15.91" width="1.2" height="1.2" fill="#20202c" opacity="0.12"/><rect x="33.32" y="8.46" width="1.2" height="1.2" fill="#20202c" opacity="0.07"/><rect x="50.97" y="10.99" width="1.2" height="1.2" fill="#20202c" opacity="0.11"/><rect x="18.24" y="3.19" width="0.8" height="0.8" fill="#d0d0e6" opacity="0.12"/><rect x="5.28" y="20.24" width="1.2" height="1.2" fill="#20202c" opacity="0.2"/><rect x="50.29" y="21.09" width="0.8" height="0.8" fill="#ffffff" opacity="0.2"/><rect x="1.53" y="5.64" width="1.2" height="1.2" fill="#20202c" opacity="0.11"/><rect x="46.41" y="11.85" width="1.2" height="1.2" fill="#20202c" opacity="0.14"/><rect x="43.63" y="9.46" width="1.2" height="1.2" fill="#20202c" opacity="0.12"/><rect x="40.57" y="9.97" width="1.2" height="1.2" fill="#ffffff" opacity="0.16"/><rect x="13.76" y="9.01" width="1.2" height="1.2" fill="#d0d0e6" opacity="0.12"/><rect x="55.7" y="3.39" width="1.0" height="1.0" fill="#ffffff" opacity="0.2"/><rect x="24.1" y="16.88" width="1.2" height="1.2" fill="#d0d0e6" opacity="0.11"/><rect x="44.79" y="2.03" width="0.8" height="0.8" fill="#20202c" opacity="0.11"/><rect x="49.56" y="11.28" width="1.0" height="1.0" fill="#ffffff" opacity="0.16"/><rect x="41.39" y="18.05" width="1.0" height="1.0" fill="#d0d0e6" opacity="0.19"/><rect x="37.87" y="11.53" width="0.8" height="0.8" fill="#d0d0e6" opacity="0.1"/><rect x="24.74" y="1.32" width="1.0" height="1.0" fill="#d0d0e6" opacity="0.15"/><rect x="34.19" y="13.89" width="0.8" height="0.8" fill="#ffffff" opacity="0.16"/><rect x="47.26" y="6.75" width="1.0" height="1.0" fill="#d0d0e6" opacity="0.07"/><rect x="23.85" y="2.17" width="0.8" height="0.8" fill="#ffffff" opacity="0.16"/><rect x="10.51" y="16.92" width="1.2" height="1.2" fill="#d0d0e6" opacity="0.1"/><rect x="53.73" y="11.32" width="1.0" height="1.0" fill="#ffffff" opacity="0.14"/><rect x="36.1" y="3.2" width="0.8" height="0.8" fill="#d0d0e6" opacity="0.17"/><rect x="1.74" y="1.67" width="1.0" height="1.0" fill="#d0d0e6" opacity="0.13"/><rect x="36.78" y="17.75" width="1.2" height="1.2" fill="#ffffff" opacity="0.15"/><rect x="46.23" y="7.1" width="0.8" height="0.8" fill="#ffffff" opacity="0.12"/><rect x="1.97" y="13.83" width="0.8" height="0.8" fill="#d0d0e6" opacity="0.08"/><rect x="26.99" y="8.48" width="1.0" height="1.0" fill="#ffffff" opacity="0.1"/><rect x="34.96" y="21.11" width="0.8" height="0.8" fill="#20202c" opacity="0.08"/><rect x="14.96" y="0.97" width="1.0" height="1.0" fill="#d0d0e6" opacity="0.18"/><rect x="0.37" y="19.07" width="1.2" height="1.2" fill="#20202c" opacity="0.11"/><rect x="15.12" y="19.51" width="1.0" height="1.0" fill="#ffffff" opacity="0.1"/><rect x="40.49" y="12.87" width="1.2" height="1.2" fill="#20202c" opacity="0.11"/><rect x="29.06" y="17.44" width="0.8" height="0.8" fill="#ffffff" opacity="0.08"/><rect x="21.5" y="4.1" width="1.0" height="1.0" fill="#20202c" opacity="0.12"/><rect x="6.89" y="11.74" width="1.2" height="1.2" fill="#20202c" opacity="0.11"/><rect x="3.93" y="2.71" width="1.0" height="1.0" fill="#20202c" opacity="0.14"/><rect x="11.47" y="6.24" width="1.0" height="1.0" fill="#ffffff" opacity="0.13"/><rect x="39.86" y="7.51" width="0.8" height="0.8" fill="#ffffff" opacity="0.1"/><rect x="5.56" y="5.93" width="1.0" height="1.0" fill="#ffffff" opacity="0.14"/><rect x="50.18" y="17.71" width="0.8" height="0.8" fill="#ffffff" opacity="0.12"/><rect x="43.35" y="8.29" width="1.0" height="1.0" fill="#d0d0e6" opacity="0.1"/><rect x="30.29" y="5" width="1.2" height="1.2" fill="#20202c" opacity="0.16"/><rect x="59.88" y="13.11" width="1.0" height="1.0" fill="#20202c" opacity="0.15"/><rect x="32.08" y="8.89" width="0.8" height="0.8" fill="#d0d0e6" opacity="0.1"/><rect x="40.67" y="2.01" width="1.0" height="1.0" fill="#20202c" opacity="0.17"/></pattern></defs>
<polygon points="253.8,103.2 279.6,113.8 279.8,157.5 253.8,161.5" fill="#6993a5" />
<polygon points="127.5,104.6 253.8,103.2 253.8,161.6 128.5,163" fill="#6993a5" />
<polygon points="130.5,108.6 251.8,107.6 251.8,113.6 130.5,114.4" fill="#f6f8f9" />
<polygon points="132.5,110.6 140.75,114.6 150.75,114.6 138.5,109.2" fill="#557f91" />
<polygon points="146.75,109 155,114.4 161,114.4 152.75,109" fill="#6993a5" />
<polygon points="163,110.6 171.3,114.6 181.3,114.6 169,109.2" fill="#557f91" />
<polygon points="177.3,109 185.6,114.4 191.6,114.4 183.3,109" fill="#6993a5" />
<polygon points="193.6,110.6 201.8,114.6 211.8,114.6 199.6,109.2" fill="#557f91" />
<polygon points="207.8,109 216,114.4 222,114.4 213.8,109" fill="#6993a5" />
<polygon points="224,110.6 232.5,114.6 242.5,114.6 230,109.2" fill="#557f91" />
<polygon points="238.5,109 247,114.4 253,114.4 244.5,109" fill="#6993a5" />
<polygon points="131.5,153.4 251.8,153 251.8,156.8 131.5,157.4" fill="#f6f8f9" />
<rect x="129.5" y="120.4" width="150.1" height="12.6" fill="#1d1f22" />
<line x1="130.5" y1="122.6" x2="278.6" y2="122.6" stroke="#f1f3f4" stroke-width="3.6" stroke-dasharray="1.45 1.45"/>
<line x1="130.5" y1="130.6" x2="278.6" y2="130.6" stroke="#b9c0c4" stroke-width="3.2" stroke-dasharray="1.45 1.45"/>
<rect x="129.5" y="125.4" width="150.1" height="3.6" fill="#1d1f22" />
<rect x="129.5" y="141.2" width="150.1" height="6.2" fill="#1d1f22" />
<line x1="130.5" y1="142.6" x2="278.6" y2="142.6" stroke="#f1f3f4" stroke-width="2.8" stroke-dasharray="1.45 1.45"/>
<line x1="131.5" y1="152.4" x2="251.8" y2="152.4" stroke="#2c3236" stroke-width="2" stroke-dasharray="1.45 1.45"/>
<rect x="128.5" y="133" width="151.1" height="8.2" fill="#7aa5b7" />
<rect x="128.5" y="147.2" width="151.1" height="4.2" fill="#6f9aac" />
<rect x="128.5" y="114.4" width="125.3" height="6" fill="#6590a2" />
<polygon points="127,104.4 254.3,103 254.3,107.6 127,108.8" fill="#84aebf" />
<polygon points="127.5,157.2 253.8,156.6 253.8,161.6 128.5,163.2" fill="#84aebf" />
<polygon points="132,153 137.5,153 140,157.6 134,157.6" fill="#6993a5" />
<polygon points="142.75,153 148.25,153 150.75,157.6 144.75,157.6" fill="#6993a5" />
<polygon points="162.5,153 168,153 170.5,157.6 164.5,157.6" fill="#6993a5" />
<polygon points="173.3,153 178.8,153 181.3,157.6 175.3,157.6" fill="#6993a5" />
<polygon points="193.1,153 198.6,153 201.1,157.6 195.1,157.6" fill="#6993a5" />
<polygon points="203.8,153 209.3,153 211.8,157.6 205.8,157.6" fill="#6993a5" />
<polygon points="223.5,153 229,153 231.5,157.6 225.5,157.6" fill="#6993a5" />
<polygon points="234.5,153 240,153 242.5,157.6 236.5,157.6" fill="#6993a5" />
<line x1="130.5" y1="107.5" x2="159" y2="157.5" stroke="#84aebf" stroke-width="2" />
<line x1="159" y1="107.5" x2="130.5" y2="157.5" stroke="#84aebf" stroke-width="2" />
<line x1="161" y1="107.5" x2="189.6" y2="157.5" stroke="#84aebf" stroke-width="2" />
<line x1="189.6" y1="107.5" x2="161" y2="157.5" stroke="#84aebf" stroke-width="2" />
<line x1="191.6" y1="107.5" x2="220" y2="157.5" stroke="#84aebf" stroke-width="2" />
<line x1="220" y1="107.5" x2="191.6" y2="157.5" stroke="#84aebf" stroke-width="2" />
<line x1="222" y1="107.5" x2="251" y2="157.5" stroke="#84aebf" stroke-width="2" />
<line x1="251" y1="107.5" x2="222" y2="157.5" stroke="#84aebf" stroke-width="2" />
<line x1="129.5" y1="105" x2="129.5" y2="162" stroke="#84aebf" stroke-width="3" />
<line x1="160" y1="105" x2="160" y2="162" stroke="#84aebf" stroke-width="3" />
<line x1="190.6" y1="105" x2="190.6" y2="162" stroke="#84aebf" stroke-width="3" />
<line x1="221" y1="105" x2="221" y2="162" stroke="#84aebf" stroke-width="3" />
<line x1="252" y1="105" x2="252" y2="162" stroke="#84aebf" stroke-width="3" />
<polygon points="253.8,103.2 279.6,113.8 279.6,117.2 253.8,107.8" fill="#84aebf" />
<line x1="279" y1="113.8" x2="279.2" y2="157.6" stroke="#84aebf" stroke-width="2.6" />
<polygon points="253.8,156.8 279.8,153.2 279.8,157.8 253.8,161.8" fill="#84aebf" />
<line x1="254.8" y1="108" x2="277.6" y2="154" stroke="#84aebf" stroke-width="1.4" />
<line x1="254.8" y1="156" x2="277.6" y2="118" stroke="#557f91" stroke-width="1.2" />
<line x1="266" y1="109" x2="266" y2="158" stroke="#84aebf" stroke-width="1.6" />
<rect x="279.6" y="120.6" width="4" height="3" fill="#8c9093" rx="1"/>
<rect x="279.6" y="141.2" width="4" height="3" fill="#8c9093" rx="1"/>
<rect x="123.8" y="130.4" width="4" height="2.6" fill="#8c9093" rx="1"/>
<rect x="123.4" y="152.4" width="4" height="2.6" fill="#8c9093" rx="1"/>
<rect x="130" y="163" width="6" height="2.2" fill="#6993a5" />
<rect x="80" y="183" width="35.6" height="11.4" fill="#bcbcbb" rx="4.38"/>
<rect x="81" y="189.8" width="30.6" height="3.2" fill="#cfcfce" rx="1.6"/>
<rect x="57.5" y="171.9" width="55.1" height="16.1" fill="#bdbdbc" rx="7.32"/>
<rect x="57.9" y="171.9" width="54.3" height="12.7" fill="#ebebea" rx="6.35"/>
<rect x="69.7" y="176.4" width="6.8" height="5.8" fill="#5f5e5d" rx="1.8"/>
<rect x="71.4" y="177.6" width="3.4" height="3.2" fill="#d9d9d8" rx="0.5"/>
<line x1="69.3" y1="179.3" x2="76.9" y2="179.3" stroke="#5f5e5d" stroke-width="1" />
<rect x="80.35" y="176.4" width="6.8" height="5.8" fill="#5f5e5d" rx="1.8"/>
<rect x="82.05" y="177.6" width="3.4" height="3.2" fill="#d9d9d8" rx="0.5"/>
<line x1="79.95" y1="179.3" x2="87.55" y2="179.3" stroke="#5f5e5d" stroke-width="1" />
<rect x="90.4" y="176" width="6.8" height="5.8" fill="#5f5e5d" rx="1.8"/>
<rect x="92.1" y="177.2" width="3.4" height="3.2" fill="#d9d9d8" rx="0.5"/>
<line x1="90" y1="178.9" x2="97.6" y2="178.9" stroke="#5f5e5d" stroke-width="1" />
<rect x="60.9" y="178.1" width="2.6" height="3" fill="#8f8e8d" />
<rect x="103.2" y="177.8" width="2.6" height="3" fill="#8f8e8d" />
<rect x="80.6" y="222" width="33.8" height="11" fill="#bcbcbb" rx="4.23"/>
<rect x="81.6" y="228.4" width="28.8" height="3.2" fill="#cfcfce" rx="1.6"/>
<rect x="56.2" y="210.6" width="55.2" height="16.8" fill="#bdbdbc" rx="7.64"/>
<rect x="56.6" y="210.6" width="54.4" height="13.4" fill="#ebebea" rx="6.7"/>
<rect x="67.85" y="215.2" width="6.8" height="5.8" fill="#5f5e5d" rx="1.8"/>
<rect x="69.55" y="216.4" width="3.4" height="3.2" fill="#d9d9d8" rx="0.5"/>
<line x1="67.45" y1="218.1" x2="75.05" y2="218.1" stroke="#5f5e5d" stroke-width="1" />
<rect x="78.5" y="215.2" width="6.8" height="5.8" fill="#5f5e5d" rx="1.8"/>
<rect x="80.2" y="216.4" width="3.4" height="3.2" fill="#d9d9d8" rx="0.5"/>
<line x1="78.1" y1="218.1" x2="85.7" y2="218.1" stroke="#5f5e5d" stroke-width="1" />
<rect x="88.5" y="214.8" width="6.8" height="5.8" fill="#5f5e5d" rx="1.8"/>
<rect x="90.2" y="216" width="3.4" height="3.2" fill="#d9d9d8" rx="0.5"/>
<line x1="88.1" y1="217.7" x2="95.7" y2="217.7" stroke="#5f5e5d" stroke-width="1" />
<rect x="59.6" y="216.9" width="2.6" height="3" fill="#8f8e8d" />
<rect x="102" y="216.6" width="2.6" height="3" fill="#8f8e8d" />
<rect x="58.2" y="256.5" width="17.1" height="4.6" fill="#b2b2b2" rx="0.8"/>
<rect x="62.7" y="257.1" width="8.1" height="2.6" fill="#dededd" />
<rect x="58.5" y="255.3" width="2.6" height="2.2" fill="#8d8d8c" />
<rect x="113.3" y="253.7" width="13.3" height="4.8" fill="#b2b2b2" rx="0.8"/>
<rect x="116.8" y="254.5" width="6.3" height="2.6" fill="#dededd" />
<rect x="123.8" y="252.7" width="2.6" height="2.4" fill="#8d8d8c" />
<rect x="73.3" y="250.5" width="42" height="13.6" fill="#c2c2c2" rx="3.81"/>
<rect x="73.9" y="250.5" width="40.8" height="11.8" fill="#e6e6e6" rx="3.54"/>
<rect x="79.7" y="254.7" width="4" height="3.6" fill="#a2a2a2" rx="0.6"/>
<rect x="80.9" y="255.5" width="1.6" height="2" fill="#f0f0ef" />
<line x1="78.9" y1="256.5" x2="84.5" y2="256.5" stroke="#a2a2a2" stroke-width="0.7" />
<rect x="92.3" y="254.7" width="4" height="3.6" fill="#a2a2a2" rx="0.6"/>
<rect x="93.5" y="255.5" width="1.6" height="2" fill="#f0f0ef" />
<line x1="91.5" y1="256.5" x2="97.1" y2="256.5" stroke="#a2a2a2" stroke-width="0.7" />
<rect x="104.9" y="254.7" width="4" height="3.6" fill="#a2a2a2" rx="0.6"/>
<rect x="106.1" y="255.5" width="1.6" height="2" fill="#f0f0ef" />
<line x1="104.1" y1="256.5" x2="109.7" y2="256.5" stroke="#a2a2a2" stroke-width="0.7" />
<rect x="58.6" y="283.4" width="18.4" height="4.6" fill="#b2b2b2" rx="0.8"/>
<rect x="63.1" y="284" width="9.4" height="2.6" fill="#dededd" />
<rect x="58.9" y="282.2" width="2.6" height="2.2" fill="#8d8d8c" />
<rect x="113.3" y="280.6" width="12.7" height="4.8" fill="#b2b2b2" rx="0.8"/>
<rect x="116.8" y="281.4" width="5.7" height="2.6" fill="#dededd" />
<rect x="123.2" y="279.6" width="2.6" height="2.4" fill="#8d8d8c" />
<rect x="75" y="277.7" width="40.3" height="13" fill="#c2c2c2" rx="3.64"/>
<rect x="75.6" y="277.7" width="39.1" height="11.2" fill="#e6e6e6" rx="3.38"/>
<rect x="81.06" y="281.6" width="4" height="3.6" fill="#a2a2a2" rx="0.6"/>
<rect x="82.26" y="282.4" width="1.6" height="2" fill="#f0f0ef" />
<line x1="80.26" y1="283.4" x2="85.86" y2="283.4" stroke="#a2a2a2" stroke-width="0.7" />
<rect x="93.15" y="281.6" width="4" height="3.6" fill="#a2a2a2" rx="0.6"/>
<rect x="94.35" y="282.4" width="1.6" height="2" fill="#f0f0ef" />
<line x1="92.35" y1="283.4" x2="97.95" y2="283.4" stroke="#a2a2a2" stroke-width="0.7" />
<rect x="105.24" y="281.6" width="4" height="3.6" fill="#a2a2a2" rx="0.6"/>
<rect x="106.44" y="282.4" width="1.6" height="2" fill="#f0f0ef" />
<line x1="104.44" y1="283.4" x2="110.04" y2="283.4" stroke="#a2a2a2" stroke-width="0.7" />
<rect x="59" y="307" width="18" height="4.6" fill="#b2b2b2" rx="0.8"/>
<rect x="63.5" y="307.6" width="9" height="2.6" fill="#dededd" />
<rect x="59.3" y="305.8" width="2.6" height="2.2" fill="#8d8d8c" />
<rect x="113" y="304.2" width="12.6" height="4.8" fill="#b2b2b2" rx="0.8"/>
<rect x="116.5" y="305" width="5.6" height="2.6" fill="#dededd" />
<rect x="122.8" y="303.2" width="2.6" height="2.4" fill="#8d8d8c" />
<rect x="75" y="301.8" width="40" height="12" fill="#c2c2c2" rx="3.36"/>
<rect x="75.6" y="301.8" width="38.8" height="10.2" fill="#e6e6e6" rx="3.12"/>
<rect x="81" y="305.2" width="4" height="3.6" fill="#a2a2a2" rx="0.6"/>
<rect x="82.2" y="306" width="1.6" height="2" fill="#f0f0ef" />
<line x1="80.2" y1="307" x2="85.8" y2="307" stroke="#a2a2a2" stroke-width="0.7" />
<rect x="93" y="305.2" width="4" height="3.6" fill="#a2a2a2" rx="0.6"/>
<rect x="94.2" y="306" width="1.6" height="2" fill="#f0f0ef" />
<line x1="92.2" y1="307" x2="97.8" y2="307" stroke="#a2a2a2" stroke-width="0.7" />
<rect x="105" y="305.2" width="4" height="3.6" fill="#a2a2a2" rx="0.6"/>
<rect x="106.2" y="306" width="1.6" height="2" fill="#f0f0ef" />
<line x1="104.2" y1="307" x2="109.8" y2="307" stroke="#a2a2a2" stroke-width="0.7" />
<rect x="59" y="330.2" width="18" height="4.6" fill="#b2b2b2" rx="0.8"/>
<rect x="63.5" y="330.8" width="9" height="2.6" fill="#dededd" />
<rect x="59.3" y="329" width="2.6" height="2.2" fill="#8d8d8c" />
<rect x="113" y="327.4" width="11.6" height="4.8" fill="#b2b2b2" rx="0.8"/>
<rect x="116.5" y="328.2" width="4.6" height="2.6" fill="#dededd" />
<rect x="121.8" y="326.4" width="2.6" height="2.4" fill="#8d8d8c" />
<rect x="75" y="325.25" width="40" height="11.5" fill="#c2c2c2" rx="3.22"/>
<rect x="75.6" y="325.25" width="38.8" height="9.7" fill="#e6e6e6" rx="2.99"/>
<rect x="81" y="328.4" width="4" height="3.6" fill="#a2a2a2" rx="0.6"/>
<rect x="82.2" y="329.2" width="1.6" height="2" fill="#f0f0ef" />
<line x1="80.2" y1="330.2" x2="85.8" y2="330.2" stroke="#a2a2a2" stroke-width="0.7" />
<rect x="93" y="328.4" width="4" height="3.6" fill="#a2a2a2" rx="0.6"/>
<rect x="94.2" y="329.2" width="1.6" height="2" fill="#f0f0ef" />
<line x1="92.2" y1="330.2" x2="97.8" y2="330.2" stroke="#a2a2a2" stroke-width="0.7" />
<rect x="105" y="328.4" width="4" height="3.6" fill="#a2a2a2" rx="0.6"/>
<rect x="106.2" y="329.2" width="1.6" height="2" fill="#f0f0ef" />
<line x1="104.2" y1="330.2" x2="109.8" y2="330.2" stroke="#a2a2a2" stroke-width="0.7" />
<rect x="59" y="353.6" width="18" height="4.6" fill="#b2b2b2" rx="0.8"/>
<rect x="63.5" y="354.2" width="9" height="2.6" fill="#dededd" />
<rect x="59.3" y="352.4" width="2.6" height="2.2" fill="#8d8d8c" />
<rect x="111" y="350.8" width="12.6" height="4.8" fill="#b2b2b2" rx="0.8"/>
<rect x="114.5" y="351.6" width="5.6" height="2.6" fill="#dededd" />
<rect x="120.8" y="349.8" width="2.6" height="2.4" fill="#8d8d8c" />
<rect x="75" y="348.9" width="38" height="11" fill="#c2c2c2" rx="3.08"/>
<rect x="75.6" y="348.9" width="36.8" height="9.2" fill="#e6e6e6" rx="2.86"/>
<rect x="80.6" y="351.8" width="4" height="3.6" fill="#a2a2a2" rx="0.6"/>
<rect x="81.8" y="352.6" width="1.6" height="2" fill="#f0f0ef" />
<line x1="79.8" y1="353.6" x2="85.4" y2="353.6" stroke="#a2a2a2" stroke-width="0.7" />
<rect x="92" y="351.8" width="4" height="3.6" fill="#a2a2a2" rx="0.6"/>
<rect x="93.2" y="352.6" width="1.6" height="2" fill="#f0f0ef" />
<line x1="91.2" y1="353.6" x2="96.8" y2="353.6" stroke="#a2a2a2" stroke-width="0.7" />
<rect x="103.4" y="351.8" width="4" height="3.6" fill="#a2a2a2" rx="0.6"/>
<rect x="104.6" y="352.6" width="1.6" height="2" fill="#f0f0ef" />
<line x1="102.6" y1="353.6" x2="108.2" y2="353.6" stroke="#a2a2a2" stroke-width="0.7" />
<rect x="59.4" y="377.2" width="17.6" height="4.6" fill="#afafaf" rx="0.8"/>
<rect x="63.9" y="377.8" width="8.6" height="2.6" fill="#dededd" />
<rect x="59.7" y="376" width="2.6" height="2.2" fill="#8d8d8c" />
<rect x="110" y="374.4" width="12.4" height="4.8" fill="#afafaf" rx="0.8"/>
<rect x="113.5" y="375.2" width="5.4" height="2.6" fill="#dededd" />
<rect x="119.6" y="373.4" width="2.6" height="2.4" fill="#8d8d8c" />
<rect x="75" y="372.75" width="37" height="10.5" fill="#bebebe" rx="2.94"/>
<rect x="75.6" y="372.75" width="35.8" height="8.7" fill="#dedede" rx="2.73"/>
<rect x="80.4" y="375.4" width="4" height="3.6" fill="#9a9a9a" rx="0.6"/>
<rect x="81.6" y="376.2" width="1.6" height="2" fill="#f0f0ef" />
<line x1="79.6" y1="377.2" x2="85.2" y2="377.2" stroke="#9a9a9a" stroke-width="0.7" />
<rect x="91.5" y="375.4" width="4" height="3.6" fill="#9a9a9a" rx="0.6"/>
<rect x="92.7" y="376.2" width="1.6" height="2" fill="#f0f0ef" />
<line x1="90.7" y1="377.2" x2="96.3" y2="377.2" stroke="#9a9a9a" stroke-width="0.7" />
<rect x="102.6" y="375.4" width="4" height="3.6" fill="#9a9a9a" rx="0.6"/>
<rect x="103.8" y="376.2" width="1.6" height="2" fill="#f0f0ef" />
<line x1="101.8" y1="377.2" x2="107.4" y2="377.2" stroke="#9a9a9a" stroke-width="0.7" />
<rect x="59.4" y="400.4" width="16" height="4.6" fill="#adadad" rx="0.8"/>
<rect x="63.9" y="401" width="7" height="2.6" fill="#dededd" />
<rect x="59.7" y="399.2" width="2.6" height="2.2" fill="#8d8d8c" />
<rect x="109.7" y="397.6" width="11.3" height="4.8" fill="#adadad" rx="0.8"/>
<rect x="113.2" y="398.4" width="4.3" height="2.6" fill="#dededd" />
<rect x="118.2" y="396.6" width="2.6" height="2.4" fill="#8d8d8c" />
<rect x="73.4" y="396.2" width="38.3" height="10" fill="#bababa" rx="2.8"/>
<rect x="74" y="396.2" width="37.1" height="8.2" fill="#d7d7d7" rx="2.6"/>
<rect x="79.06" y="398.6" width="4" height="3.6" fill="#939393" rx="0.6"/>
<rect x="80.26" y="399.4" width="1.6" height="2" fill="#f0f0ef" />
<line x1="78.26" y1="400.4" x2="83.86" y2="400.4" stroke="#939393" stroke-width="0.7" />
<rect x="90.55" y="398.6" width="4" height="3.6" fill="#939393" rx="0.6"/>
<rect x="91.75" y="399.4" width="1.6" height="2" fill="#f0f0ef" />
<line x1="89.75" y1="400.4" x2="95.35" y2="400.4" stroke="#939393" stroke-width="0.7" />
<rect x="102.04" y="398.6" width="4" height="3.6" fill="#939393" rx="0.6"/>
<rect x="103.24" y="399.4" width="1.6" height="2" fill="#f0f0ef" />
<line x1="101.24" y1="400.4" x2="106.84" y2="400.4" stroke="#939393" stroke-width="0.7" />
<rect x="59.2" y="421.6" width="16.2" height="4.6" fill="#aaaaaa" rx="0.8"/>
<rect x="63.7" y="422.2" width="7.2" height="2.6" fill="#dededd" />
<rect x="59.5" y="420.4" width="2.6" height="2.2" fill="#8d8d8c" />
<rect x="106" y="418.8" width="13.4" height="4.8" fill="#aaaaaa" rx="0.8"/>
<rect x="109.5" y="419.6" width="6.4" height="2.6" fill="#dededd" />
<rect x="116.6" y="417.8" width="2.6" height="2.4" fill="#8d8d8c" />
<rect x="73.4" y="417.65" width="34.6" height="9.5" fill="#b6b6b6" rx="2.66"/>
<rect x="74" y="417.65" width="33.4" height="7.7" fill="#d0d0d0" rx="2.47"/>
<rect x="78.32" y="419.8" width="4" height="3.6" fill="#8c8c8c" rx="0.6"/>
<rect x="79.52" y="420.6" width="1.6" height="2" fill="#f0f0ef" />
<line x1="77.52" y1="421.6" x2="83.12" y2="421.6" stroke="#8c8c8c" stroke-width="0.7" />
<rect x="88.7" y="419.8" width="4" height="3.6" fill="#8c8c8c" rx="0.6"/>
<rect x="89.9" y="420.6" width="1.6" height="2" fill="#f0f0ef" />
<line x1="87.9" y1="421.6" x2="93.5" y2="421.6" stroke="#8c8c8c" stroke-width="0.7" />
<rect x="99.08" y="419.8" width="4" height="3.6" fill="#8c8c8c" rx="0.6"/>
<rect x="100.28" y="420.6" width="1.6" height="2" fill="#f0f0ef" />
<line x1="98.28" y1="421.6" x2="103.88" y2="421.6" stroke="#8c8c8c" stroke-width="0.7" />
<rect x="57" y="442.5" width="17.7" height="4.6" fill="#a8a8a8" rx="0.8"/>
<rect x="61.5" y="443.1" width="8.7" height="2.6" fill="#dededd" />
<rect x="57.3" y="441.3" width="2.6" height="2.2" fill="#8d8d8c" />
<rect x="104.7" y="439.7" width="13.3" height="4.8" fill="#a8a8a8" rx="0.8"/>
<rect x="108.2" y="440.5" width="6.3" height="2.6" fill="#dededd" />
<rect x="115.2" y="438.7" width="2.6" height="2.4" fill="#8d8d8c" />
<rect x="72.7" y="438.4" width="34" height="9.8" fill="#b2b2b2" rx="2.74"/>
<rect x="73.3" y="438.4" width="32.8" height="8" fill="#c9c9c9" rx="2.55"/>
<rect x="77.5" y="440.7" width="4" height="3.6" fill="#858585" rx="0.6"/>
<rect x="78.7" y="441.5" width="1.6" height="2" fill="#f0f0ef" />
<line x1="76.7" y1="442.5" x2="82.3" y2="442.5" stroke="#858585" stroke-width="0.7" />
<rect x="87.7" y="440.7" width="4" height="3.6" fill="#858585" rx="0.6"/>
<rect x="88.9" y="441.5" width="1.6" height="2" fill="#f0f0ef" />
<line x1="86.9" y1="442.5" x2="92.5" y2="442.5" stroke="#858585" stroke-width="0.7" />
<rect x="97.9" y="440.7" width="4" height="3.6" fill="#858585" rx="0.6"/>
<rect x="99.1" y="441.5" width="1.6" height="2" fill="#f0f0ef" />
<line x1="97.1" y1="442.5" x2="102.7" y2="442.5" stroke="#858585" stroke-width="0.7" />
<rect x="57.8" y="462.7" width="17.6" height="4.6" fill="#a6a6a6" rx="0.8"/>
<rect x="62.3" y="463.3" width="8.6" height="2.6" fill="#dededd" />
<rect x="58.1" y="461.5" width="2.6" height="2.2" fill="#8d8d8c" />
<rect x="106" y="459.9" width="7" height="4.8" fill="#a6a6a6" rx="0.8"/>
<rect x="109.5" y="460.7" width="0" height="2.6" fill="#dededd" />
<rect x="110.2" y="458.9" width="2.6" height="2.4" fill="#8d8d8c" />
<rect x="73.4" y="458.9" width="34.6" height="9.2" fill="#aeaeae" rx="2.58"/>
<rect x="74" y="458.9" width="33.4" height="7.4" fill="#c2c2c2" rx="2.39"/>
<rect x="78.32" y="460.9" width="4" height="3.6" fill="#7e7e7e" rx="0.6"/>
<rect x="79.52" y="461.7" width="1.6" height="2" fill="#f0f0ef" />
<line x1="77.52" y1="462.7" x2="83.12" y2="462.7" stroke="#7e7e7e" stroke-width="0.7" />
<rect x="88.7" y="460.9" width="4" height="3.6" fill="#7e7e7e" rx="0.6"/>
<rect x="89.9" y="461.7" width="1.6" height="2" fill="#f0f0ef" />
<line x1="87.9" y1="462.7" x2="93.5" y2="462.7" stroke="#7e7e7e" stroke-width="0.7" />
<rect x="99.08" y="460.9" width="4" height="3.6" fill="#7e7e7e" rx="0.6"/>
<rect x="100.28" y="461.7" width="1.6" height="2" fill="#f0f0ef" />
<line x1="98.28" y1="462.7" x2="103.88" y2="462.7" stroke="#7e7e7e" stroke-width="0.7" />
<rect x="57.8" y="482.5" width="16.9" height="4.6" fill="#a6a6a6" rx="0.8"/>
<rect x="62.3" y="483.1" width="7.9" height="2.6" fill="#dededd" />
<rect x="58.1" y="481.3" width="2.6" height="2.2" fill="#8d8d8c" />
<rect x="103.2" y="479.7" width="9.1" height="4.8" fill="#a6a6a6" rx="0.8"/>
<rect x="106.7" y="480.5" width="2.1" height="2.6" fill="#dededd" />
<rect x="109.5" y="478.7" width="2.6" height="2.4" fill="#8d8d8c" />
<rect x="72.7" y="478.7" width="32.5" height="9.2" fill="#aeaeae" rx="2.58"/>
<rect x="73.3" y="478.7" width="31.3" height="7.4" fill="#c2c2c2" rx="2.39"/>
<rect x="77.2" y="480.7" width="4" height="3.6" fill="#7e7e7e" rx="0.6"/>
<rect x="78.4" y="481.5" width="1.6" height="2" fill="#f0f0ef" />
<line x1="76.4" y1="482.5" x2="82" y2="482.5" stroke="#7e7e7e" stroke-width="0.7" />
<rect x="86.95" y="480.7" width="4" height="3.6" fill="#7e7e7e" rx="0.6"/>
<rect x="88.15" y="481.5" width="1.6" height="2" fill="#f0f0ef" />
<line x1="86.15" y1="482.5" x2="91.75" y2="482.5" stroke="#7e7e7e" stroke-width="0.7" />
<rect x="96.7" y="480.7" width="4" height="3.6" fill="#7e7e7e" rx="0.6"/>
<rect x="97.9" y="481.5" width="1.6" height="2" fill="#f0f0ef" />
<line x1="95.9" y1="482.5" x2="101.5" y2="482.5" stroke="#7e7e7e" stroke-width="0.7" />
<polygon points="214.5,174.5 217,174.5 222.6,179.75 222.6,183.75 214.5,177.5" fill="#a3a3a2" />
<line x1="221.7" y1="181.5" x2="221.7" y2="213" stroke="#b3b3b2" stroke-width="1.8" />
<rect x="214.5" y="177" width="5.8" height="31" fill="#e4e4e3" />
<polygon points="212.5,206.4 215.5,206.4 222.6,211 222.6,214.5 219.5,214.5 212.5,209" fill="#a6a6a5" />
<polygon points="163.54,208.5 168.54,208.5 172.54,213.6 169.04,214" fill="#ababaa" />
<polygon points="188.96,208.5 193.96,208.5 197.96,213.6 194.46,214" fill="#ababaa" />
<rect x="153" y="174" width="62" height="35" fill="#cecece" />
<rect x="153" y="174" width="62" height="1" fill="#a2a2a1" />
<rect x="153" y="206.4" width="62" height="2.6" fill="#adadac" />
<rect x="153" y="174" width="3.4" height="35" fill="#8a8a89" />
<rect x="154" y="175" width="1.2" height="33" fill="#b9b9b8" />
<rect x="210.8" y="174" width="4.2" height="35" fill="#858584" />
<rect x="212.4" y="175" width="1.4" height="33" fill="#b4b4b3" />
<rect x="181" y="177.25" width="6" height="6.3" fill="#4f4e4d" rx="0.5"/>
<rect x="182.3" y="178.55" width="3.4" height="3.7" fill="#cbcbca" />
<line x1="184" y1="176.2" x2="184" y2="184.6" stroke="#4f4e4d" stroke-width="0.9" />
<line x1="179.9" y1="180.4" x2="182.3" y2="180.4" stroke="#4f4e4d" stroke-width="0.9" />
<rect x="181" y="187.85" width="6" height="6.3" fill="#4f4e4d" rx="0.5"/>
<rect x="182.3" y="189.15" width="3.4" height="3.7" fill="#cbcbca" />
<line x1="184" y1="186.8" x2="184" y2="195.2" stroke="#4f4e4d" stroke-width="0.9" />
<line x1="179.9" y1="191" x2="182.3" y2="191" stroke="#4f4e4d" stroke-width="0.9" />
<rect x="181" y="198.85" width="6" height="6.3" fill="#4f4e4d" rx="0.5"/>
<rect x="182.3" y="200.15" width="3.4" height="3.7" fill="#cbcbca" />
<line x1="184" y1="197.8" x2="184" y2="206.2" stroke="#4f4e4d" stroke-width="0.9" />
<line x1="179.9" y1="202" x2="182.3" y2="202" stroke="#4f4e4d" stroke-width="0.9" />
<rect x="160" y="187.85" width="6" height="6.3" fill="#4f4e4d" rx="0.5"/>
<rect x="161.3" y="189.15" width="3.4" height="3.7" fill="#cbcbca" />
<line x1="163" y1="186.8" x2="163" y2="195.2" stroke="#4f4e4d" stroke-width="0.9" />
<line x1="158.9" y1="191" x2="161.3" y2="191" stroke="#4f4e4d" stroke-width="0.9" />
<rect x="201" y="187.85" width="6" height="6.3" fill="#4f4e4d" rx="0.5"/>
<rect x="202.3" y="189.15" width="3.4" height="3.7" fill="#cbcbca" />
<line x1="204" y1="186.8" x2="204" y2="195.2" stroke="#4f4e4d" stroke-width="0.9" />
<line x1="199.9" y1="191" x2="202.3" y2="191" stroke="#4f4e4d" stroke-width="0.9" />
<polygon points="284.5,174.5 287,174.5 292.1,178.93 292.1,182.93 284.5,177.5" fill="#a3a3a2" />
<line x1="291.2" y1="180.75" x2="291.2" y2="210.5" stroke="#b3b3b2" stroke-width="1.8" />
<rect x="284.5" y="177" width="5.3" height="30" fill="#e4e4e3" />
<polygon points="282.5,205.4 285.5,205.4 292.1,208.5 292.1,212 289,212 282.5,208" fill="#a6a6a5" />
<polygon points="240.18,207.5 245.18,207.5 249.18,212.6 245.68,213" fill="#ababaa" />
<polygon points="262.32,207.5 267.32,207.5 271.32,212.6 267.82,213" fill="#ababaa" />
<rect x="231" y="174" width="54" height="34" fill="#cecece" />
<rect x="231" y="174" width="54" height="1" fill="#a2a2a1" />
<rect x="231" y="205.4" width="54" height="2.6" fill="#adadac" />
<rect x="231" y="174" width="3.4" height="34" fill="#8a8a89" />
<rect x="232" y="175" width="1.2" height="32" fill="#b9b9b8" />
<rect x="280.8" y="174" width="4.2" height="34" fill="#858584" />
<rect x="282.4" y="175" width="1.4" height="32" fill="#b4b4b3" />
<rect x="255.6" y="176.85" width="6" height="6.3" fill="#4f4e4d" rx="0.5"/>
<rect x="256.9" y="178.15" width="3.4" height="3.7" fill="#cbcbca" />
<line x1="258.6" y1="175.8" x2="258.6" y2="184.2" stroke="#4f4e4d" stroke-width="0.9" />
<line x1="254.5" y1="180" x2="256.9" y2="180" stroke="#4f4e4d" stroke-width="0.9" />
<rect x="255.6" y="187.45" width="6" height="6.3" fill="#4f4e4d" rx="0.5"/>
<rect x="256.9" y="188.75" width="3.4" height="3.7" fill="#cbcbca" />
<line x1="258.6" y1="186.4" x2="258.6" y2="194.8" stroke="#4f4e4d" stroke-width="0.9" />
<line x1="254.5" y1="190.6" x2="256.9" y2="190.6" stroke="#4f4e4d" stroke-width="0.9" />
<rect x="255.6" y="197.85" width="6" height="6.3" fill="#4f4e4d" rx="0.5"/>
<rect x="256.9" y="199.15" width="3.4" height="3.7" fill="#cbcbca" />
<line x1="258.6" y1="196.8" x2="258.6" y2="205.2" stroke="#4f4e4d" stroke-width="0.9" />
<line x1="254.5" y1="201" x2="256.9" y2="201" stroke="#4f4e4d" stroke-width="0.9" />
<polygon points="209.5,228.5 212,228.5 219.6,234.3 219.6,238.3 209.5,231.5" fill="#a3a3a2" />
<line x1="218.7" y1="236" x2="218.7" y2="265.4" stroke="#b3b3b2" stroke-width="1.8" />
<rect x="209.5" y="231" width="7.8" height="28.4" fill="#e4e4e3" />
<polygon points="207.5,257.8 210.5,257.8 219.6,263.4 219.6,266.9 216.5,266.9 207.5,260.4" fill="#a6a6a5" />
<polygon points="159.37,259.9 164.37,259.9 168.37,265 164.87,265.4" fill="#ababaa" />
<polygon points="184.38,259.9 189.38,259.9 193.38,265 189.88,265.4" fill="#ababaa" />
<rect x="149" y="228" width="61" height="32.4" fill="#cecece" />
<rect x="149" y="228" width="61" height="1" fill="#a2a2a1" />
<rect x="149" y="257.8" width="61" height="2.6" fill="#adadac" />
<rect x="149" y="228" width="3.4" height="32.4" fill="#8a8a89" />
<rect x="150" y="229" width="1.2" height="30.4" fill="#b9b9b8" />
<rect x="205.8" y="228" width="4.2" height="32.4" fill="#858584" />
<rect x="207.4" y="229" width="1.4" height="30.4" fill="#b4b4b3" />
<rect x="176" y="231.85" width="6" height="6.3" fill="#4f4e4d" rx="0.5"/>
<rect x="177.3" y="233.15" width="3.4" height="3.7" fill="#cbcbca" />
<line x1="179" y1="230.8" x2="179" y2="239.2" stroke="#4f4e4d" stroke-width="0.9" />
<line x1="174.9" y1="235" x2="177.3" y2="235" stroke="#4f4e4d" stroke-width="0.9" />
<rect x="176" y="242.85" width="6" height="6.3" fill="#4f4e4d" rx="0.5"/>
<rect x="177.3" y="244.15" width="3.4" height="3.7" fill="#cbcbca" />
<line x1="179" y1="241.8" x2="179" y2="250.2" stroke="#4f4e4d" stroke-width="0.9" />
<line x1="174.9" y1="246" x2="177.3" y2="246" stroke="#4f4e4d" stroke-width="0.9" />
<rect x="176" y="253.45" width="6" height="6.3" fill="#4f4e4d" rx="0.5"/>
<rect x="177.3" y="254.75" width="3.4" height="3.7" fill="#cbcbca" />
<line x1="179" y1="252.4" x2="179" y2="260.8" stroke="#4f4e4d" stroke-width="0.9" />
<line x1="174.9" y1="256.6" x2="177.3" y2="256.6" stroke="#4f4e4d" stroke-width="0.9" />
<rect x="155" y="242.85" width="6" height="6.3" fill="#4f4e4d" rx="0.5"/>
<rect x="156.3" y="244.15" width="3.4" height="3.7" fill="#cbcbca" />
<line x1="158" y1="241.8" x2="158" y2="250.2" stroke="#4f4e4d" stroke-width="0.9" />
<line x1="153.9" y1="246" x2="156.3" y2="246" stroke="#4f4e4d" stroke-width="0.9" />
<rect x="197" y="241.85" width="6" height="6.3" fill="#4f4e4d" rx="0.5"/>
<rect x="198.3" y="243.15" width="3.4" height="3.7" fill="#cbcbca" />
<line x1="200" y1="240.8" x2="200" y2="249.2" stroke="#4f4e4d" stroke-width="0.9" />
<line x1="195.9" y1="245" x2="198.3" y2="245" stroke="#4f4e4d" stroke-width="0.9" />
<polygon points="282.5,228.5 285,228.5 290.1,234.85 290.1,238.85 282.5,231.5" fill="#a3a3a2" />
<line x1="289.2" y1="236.5" x2="289.2" y2="266.4" stroke="#b3b3b2" stroke-width="1.8" />
<rect x="282.5" y="231" width="5.3" height="28.4" fill="#e4e4e3" />
<polygon points="280.5,257.8 283.5,257.8 290.1,264.4 290.1,267.9 287,267.9 280.5,260.4" fill="#a6a6a5" />
<polygon points="238.18,259.9 243.18,259.9 247.18,265 243.68,265.4" fill="#ababaa" />
<polygon points="260.32,259.9 265.32,259.9 269.32,265 265.82,265.4" fill="#ababaa" />
<rect x="229" y="228" width="54" height="32.4" fill="#cecece" />
<rect x="229" y="228" width="54" height="1" fill="#a2a2a1" />
<rect x="229" y="257.8" width="54" height="2.6" fill="#adadac" />
<rect x="229" y="228" width="3.4" height="32.4" fill="#8a8a89" />
<rect x="230" y="229" width="1.2" height="30.4" fill="#b9b9b8" />
<rect x="278.8" y="228" width="4.2" height="32.4" fill="#858584" />
<rect x="280.4" y="229" width="1.4" height="30.4" fill="#b4b4b3" />
<rect x="253" y="231.85" width="6" height="6.3" fill="#4f4e4d" rx="0.5"/>
<rect x="254.3" y="233.15" width="3.4" height="3.7" fill="#cbcbca" />
<line x1="256" y1="230.8" x2="256" y2="239.2" stroke="#4f4e4d" stroke-width="0.9" />
<line x1="251.9" y1="235" x2="254.3" y2="235" stroke="#4f4e4d" stroke-width="0.9" />
<rect x="253" y="242.85" width="6" height="6.3" fill="#4f4e4d" rx="0.5"/>
<rect x="254.3" y="244.15" width="3.4" height="3.7" fill="#cbcbca" />
<line x1="256" y1="241.8" x2="256" y2="250.2" stroke="#4f4e4d" stroke-width="0.9" />
<line x1="251.9" y1="246" x2="254.3" y2="246" stroke="#4f4e4d" stroke-width="0.9" />
<rect x="253" y="253.85" width="6" height="6.3" fill="#4f4e4d" rx="0.5"/>
<rect x="254.3" y="255.15" width="3.4" height="3.7" fill="#cbcbca" />
<line x1="256" y1="252.8" x2="256" y2="261.2" stroke="#4f4e4d" stroke-width="0.9" />
<line x1="251.9" y1="257" x2="254.3" y2="257" stroke="#4f4e4d" stroke-width="0.9" />
<polygon points="208.5,282.9 211,282.9 215.6,286.22 215.6,290.22 208.5,285.9" fill="#a3a3a2" />
<line x1="214.7" y1="288.15" x2="214.7" y2="319.5" stroke="#b3b3b2" stroke-width="1.8" />
<rect x="208.5" y="285.4" width="4.8" height="32.6" fill="#e4e4e3" />
<polygon points="206.5,316.4 209.5,316.4 215.6,317.5 215.6,321 212.5,321 206.5,319" fill="#a6a6a5" />
<polygon points="157.04,318.5 162.04,318.5 166.04,323.6 162.54,324" fill="#ababaa" />
<polygon points="182.71,318.5 187.71,318.5 191.71,323.6 188.21,324" fill="#ababaa" />
<rect x="146.4" y="282.4" width="62.6" height="36.6" fill="#cecece" />
<rect x="146.4" y="282.4" width="62.6" height="1" fill="#a2a2a1" />
<rect x="146.4" y="316.4" width="62.6" height="2.6" fill="#adadac" />
<rect x="146.4" y="282.4" width="3.4" height="36.6" fill="#8a8a89" />
<rect x="147.4" y="283.4" width="1.2" height="34.6" fill="#b9b9b8" />
<rect x="204.8" y="282.4" width="4.2" height="36.6" fill="#858584" />
<rect x="206.4" y="283.4" width="1.4" height="34.6" fill="#b4b4b3" />
<rect x="173" y="286.45" width="6" height="6.3" fill="#4f4e4d" rx="0.5"/>
<rect x="174.3" y="287.75" width="3.4" height="3.7" fill="#cbcbca" />
<line x1="176" y1="285.4" x2="176" y2="293.8" stroke="#4f4e4d" stroke-width="0.9" />
<line x1="171.9" y1="289.6" x2="174.3" y2="289.6" stroke="#4f4e4d" stroke-width="0.9" />
<rect x="173" y="296.85" width="6" height="6.3" fill="#4f4e4d" rx="0.5"/>
<rect x="174.3" y="298.15" width="3.4" height="3.7" fill="#cbcbca" />
<line x1="176" y1="295.8" x2="176" y2="304.2" stroke="#4f4e4d" stroke-width="0.9" />
<line x1="171.9" y1="300" x2="174.3" y2="300" stroke="#4f4e4d" stroke-width="0.9" />
<rect x="173" y="308.25" width="6" height="6.3" fill="#4f4e4d" rx="0.5"/>
<rect x="174.3" y="309.55" width="3.4" height="3.7" fill="#cbcbca" />
<line x1="176" y1="307.2" x2="176" y2="315.6" stroke="#4f4e4d" stroke-width="0.9" />
<line x1="171.9" y1="311.4" x2="174.3" y2="311.4" stroke="#4f4e4d" stroke-width="0.9" />
<rect x="152" y="297.25" width="6" height="6.3" fill="#4f4e4d" rx="0.5"/>
<rect x="153.3" y="298.55" width="3.4" height="3.7" fill="#cbcbca" />
<line x1="155" y1="296.2" x2="155" y2="304.6" stroke="#4f4e4d" stroke-width="0.9" />
<line x1="150.9" y1="300.4" x2="153.3" y2="300.4" stroke="#4f4e4d" stroke-width="0.9" />
<rect x="194" y="296.85" width="6" height="6.3" fill="#4f4e4d" rx="0.5"/>
<rect x="195.3" y="298.15" width="3.4" height="3.7" fill="#cbcbca" />
<line x1="197" y1="295.8" x2="197" y2="304.2" stroke="#4f4e4d" stroke-width="0.9" />
<line x1="192.9" y1="300" x2="195.3" y2="300" stroke="#4f4e4d" stroke-width="0.9" />
<polygon points="282.5,280.5 285,280.5 285.2,283 285.2,287 282.5,283.5" fill="#a3a3a2" />
<line x1="284.3" y1="285" x2="284.3" y2="316" stroke="#b3b3b2" stroke-width="1.8" />
<rect x="282.5" y="283" width="0.5" height="33" fill="#e4e4e3" />
<polygon points="280.5,314.4 283.5,314.4 285.2,314 285.2,317.5 282.1,317.5 280.5,317" fill="#a6a6a5" />
<rect x="225.6" y="280" width="57.4" height="37" fill="#cecece" />
<rect x="225.6" y="280" width="57.4" height="1" fill="#a2a2a1" />
<rect x="225.6" y="314.4" width="57.4" height="2.6" fill="#adadac" />
<rect x="225.6" y="280" width="3.4" height="37" fill="#8a8a89" />
<rect x="226.6" y="281" width="1.2" height="35" fill="#b9b9b8" />
<rect x="278.8" y="280" width="4.2" height="37" fill="#858584" />
<rect x="280.4" y="281" width="1.4" height="35" fill="#b4b4b3" />
<rect x="250.6" y="284.45" width="6" height="6.3" fill="#4f4e4d" rx="0.5"/>
<rect x="251.9" y="285.75" width="3.4" height="3.7" fill="#cbcbca" />
<line x1="253.6" y1="283.4" x2="253.6" y2="291.8" stroke="#4f4e4d" stroke-width="0.9" />
<line x1="249.5" y1="287.6" x2="251.9" y2="287.6" stroke="#4f4e4d" stroke-width="0.9" />
<rect x="250.6" y="294.85" width="6" height="6.3" fill="#4f4e4d" rx="0.5"/>
<rect x="251.9" y="296.15" width="3.4" height="3.7" fill="#cbcbca" />
<line x1="253.6" y1="293.8" x2="253.6" y2="302.2" stroke="#4f4e4d" stroke-width="0.9" />
<line x1="249.5" y1="298" x2="251.9" y2="298" stroke="#4f4e4d" stroke-width="0.9" />
<rect x="250.6" y="305.45" width="6" height="6.3" fill="#4f4e4d" rx="0.5"/>
<rect x="251.9" y="306.75" width="3.4" height="3.7" fill="#cbcbca" />
<line x1="253.6" y1="304.4" x2="253.6" y2="312.8" stroke="#4f4e4d" stroke-width="0.9" />
<line x1="249.5" y1="308.6" x2="251.9" y2="308.6" stroke="#4f4e4d" stroke-width="0.9" />
<rect x="206" y="333" width="4" height="5" fill="#a5a5a4" />
<rect x="150" y="332" width="56" height="37" fill="#cecece" />
<rect x="150" y="332" width="56" height="1" fill="#a2a2a1" />
<rect x="150" y="366.4" width="56" height="2.6" fill="#adadac" />
<rect x="150" y="332" width="3.4" height="37" fill="#8a8a89" />
<rect x="151" y="333" width="1.2" height="35" fill="#b9b9b8" />
<rect x="201.8" y="332" width="4.2" height="37" fill="#858584" />
<rect x="203.4" y="333" width="1.4" height="35" fill="#b4b4b3" />
<rect x="174" y="336.85" width="6" height="6.3" fill="#4f4e4d" rx="0.5"/>
<rect x="175.3" y="338.15" width="3.4" height="3.7" fill="#cbcbca" />
<line x1="177" y1="335.8" x2="177" y2="344.2" stroke="#4f4e4d" stroke-width="0.9" />
<line x1="172.9" y1="340" x2="175.3" y2="340" stroke="#4f4e4d" stroke-width="0.9" />
<rect x="174" y="347.45" width="6" height="6.3" fill="#4f4e4d" rx="0.5"/>
<rect x="175.3" y="348.75" width="3.4" height="3.7" fill="#cbcbca" />
<line x1="177" y1="346.4" x2="177" y2="354.8" stroke="#4f4e4d" stroke-width="0.9" />
<line x1="172.9" y1="350.6" x2="175.3" y2="350.6" stroke="#4f4e4d" stroke-width="0.9" />
<rect x="174" y="358.25" width="6" height="6.3" fill="#4f4e4d" rx="0.5"/>
<rect x="175.3" y="359.55" width="3.4" height="3.7" fill="#cbcbca" />
<line x1="177" y1="357.2" x2="177" y2="365.6" stroke="#4f4e4d" stroke-width="0.9" />
<line x1="172.9" y1="361.4" x2="175.3" y2="361.4" stroke="#4f4e4d" stroke-width="0.9" />
<rect x="226" y="330" width="57" height="37" fill="#cecece" />
<rect x="226" y="330" width="57" height="1" fill="#a2a2a1" />
<rect x="226" y="364.4" width="57" height="2.6" fill="#adadac" />
<rect x="226" y="330" width="3.4" height="37" fill="#8a8a89" />
<rect x="227" y="331" width="1.2" height="35" fill="#b9b9b8" />
<rect x="278.8" y="330" width="4.2" height="37" fill="#858584" />
<rect x="280.4" y="331" width="1.4" height="35" fill="#b4b4b3" />
<rect x="251.4" y="334.85" width="6" height="6.3" fill="#4f4e4d" rx="0.5"/>
<rect x="252.7" y="336.15" width="3.4" height="3.7" fill="#cbcbca" />
<line x1="254.4" y1="333.8" x2="254.4" y2="342.2" stroke="#4f4e4d" stroke-width="0.9" />
<line x1="250.3" y1="338" x2="252.7" y2="338" stroke="#4f4e4d" stroke-width="0.9" />
<rect x="251.4" y="345.25" width="6" height="6.3" fill="#4f4e4d" rx="0.5"/>
<rect x="252.7" y="346.55" width="3.4" height="3.7" fill="#cbcbca" />
<line x1="254.4" y1="344.2" x2="254.4" y2="352.6" stroke="#4f4e4d" stroke-width="0.9" />
<line x1="250.3" y1="348.4" x2="252.7" y2="348.4" stroke="#4f4e4d" stroke-width="0.9" />
<rect x="251.4" y="356.25" width="6" height="6.3" fill="#4f4e4d" rx="0.5"/>
<rect x="252.7" y="357.55" width="3.4" height="3.7" fill="#cbcbca" />
<line x1="254.4" y1="355.2" x2="254.4" y2="363.6" stroke="#4f4e4d" stroke-width="0.9" />
<line x1="250.3" y1="359.4" x2="252.7" y2="359.4" stroke="#4f4e4d" stroke-width="0.9" />
<rect x="226" y="383" width="57.6" height="38" fill="#cecece" />
<rect x="226" y="383" width="57.6" height="1" fill="#a2a2a1" />
<rect x="226" y="418.4" width="57.6" height="2.6" fill="#adadac" />
<rect x="226" y="383" width="3.4" height="38" fill="#8a8a89" />
<rect x="227" y="384" width="1.2" height="36" fill="#b9b9b8" />
<rect x="279.4" y="383" width="4.2" height="38" fill="#858584" />
<rect x="281" y="384" width="1.4" height="36" fill="#b4b4b3" />
<rect x="252" y="387.85" width="6" height="6.3" fill="#4f4e4d" rx="0.5"/>
<rect x="253.3" y="389.15" width="3.4" height="3.7" fill="#cbcbca" />
<line x1="255" y1="386.8" x2="255" y2="395.2" stroke="#4f4e4d" stroke-width="0.9" />
<line x1="250.9" y1="391" x2="253.3" y2="391" stroke="#4f4e4d" stroke-width="0.9" />
<rect x="252" y="398.85" width="6" height="6.3" fill="#4f4e4d" rx="0.5"/>
<rect x="253.3" y="400.15" width="3.4" height="3.7" fill="#cbcbca" />
<line x1="255" y1="397.8" x2="255" y2="406.2" stroke="#4f4e4d" stroke-width="0.9" />
<line x1="250.9" y1="402" x2="253.3" y2="402" stroke="#4f4e4d" stroke-width="0.9" />
<rect x="252" y="409.45" width="6" height="6.3" fill="#4f4e4d" rx="0.5"/>
<rect x="253.3" y="410.75" width="3.4" height="3.7" fill="#cbcbca" />
<line x1="255" y1="408.4" x2="255" y2="416.8" stroke="#4f4e4d" stroke-width="0.9" />
<line x1="250.9" y1="412.6" x2="253.3" y2="412.6" stroke="#4f4e4d" stroke-width="0.9" />
<rect x="161" y="389.4" width="36.6" height="13.6" fill="#cdcdcc" />
<rect x="161" y="401.8" width="36.6" height="1.2" fill="#b5b5b4" />
<rect x="164.35" y="392.9" width="7.2" height="6.6" fill="#4e4d4c" rx="1.4"/>
<rect x="165.95" y="394.3" width="4" height="3.8" fill="#d6d6d5" rx="0.7"/>
<line x1="163.55" y1="396.2" x2="172.35" y2="396.2" stroke="#4e4d4c" stroke-width="0.9" />
<rect x="174.6" y="392.9" width="7.2" height="6.6" fill="#4e4d4c" rx="1.4"/>
<rect x="176.2" y="394.3" width="4" height="3.8" fill="#d6d6d5" rx="0.7"/>
<line x1="173.8" y1="396.2" x2="182.6" y2="396.2" stroke="#4e4d4c" stroke-width="0.9" />
<rect x="184.85" y="392.9" width="7.2" height="6.6" fill="#4e4d4c" rx="1.4"/>
<rect x="186.45" y="394.3" width="4" height="3.8" fill="#d6d6d5" rx="0.7"/>
<line x1="184.05" y1="396.2" x2="192.85" y2="396.2" stroke="#4e4d4c" stroke-width="0.9" />
<rect x="161" y="410" width="35.4" height="13" fill="#cdcdcc" />
<rect x="161" y="421.8" width="35.4" height="1.2" fill="#b5b5b4" />
<rect x="164.13" y="413.2" width="7.2" height="6.6" fill="#4e4d4c" rx="1.4"/>
<rect x="165.73" y="414.6" width="4" height="3.8" fill="#d6d6d5" rx="0.7"/>
<line x1="163.33" y1="416.5" x2="172.13" y2="416.5" stroke="#4e4d4c" stroke-width="0.9" />
<rect x="174.04" y="413.2" width="7.2" height="6.6" fill="#4e4d4c" rx="1.4"/>
<rect x="175.64" y="414.6" width="4" height="3.8" fill="#d6d6d5" rx="0.7"/>
<line x1="173.24" y1="416.5" x2="182.04" y2="416.5" stroke="#4e4d4c" stroke-width="0.9" />
<rect x="183.95" y="413.2" width="7.2" height="6.6" fill="#4e4d4c" rx="1.4"/>
<rect x="185.55" y="414.6" width="4" height="3.8" fill="#d6d6d5" rx="0.7"/>
<line x1="183.15" y1="416.5" x2="191.95" y2="416.5" stroke="#4e4d4c" stroke-width="0.9" />
<polygon points="135,438.2 243.4,437.6 243.8,454 135.4,455.4" fill="#3d9ad6" />
<polygon points="135,438.2 243.4,437.6 243.4,441 135,441.6" fill="#56abe0" />
<polygon points="135.3,452.6 243.7,451.6 243.8,454 135.4,455.4" fill="#2f86c2" />
<polygon points="135.2,445.2 158,446 162,447.6 158,449 135.3,449.8" fill="#3489c4" />
<line x1="150" y1="441.8" x2="243" y2="441.2" stroke="#3288c6" stroke-width="0.6" />
<path d="M139.4 467.2 L150.6 466.8 L151.4 468.8 L159.6 469 Q164 470.6 164.2 475.6 Q164 480.6 159.6 482 L151.4 482.2 L150.6 484.2 L139.4 483.8 Q135.2 482.4 135.1 475.5 Q135.2 468.6 139.4 467.2 Z" fill="#3ba2de"/>
<circle cx="140.4" cy="475.4" r="3.1" fill="#ffffff"/>
<rect x="135" y="474.4" width="4" height="2.2" fill="#ffffff" />
<line x1="261.4" y1="435" x2="257.8" y2="472.4" stroke="#719db5" stroke-width="2.3" stroke-linecap="round"/>
<line x1="305.4" y1="438.8" x2="302.8" y2="474.8" stroke="#719db5" stroke-width="1.9" stroke-linecap="round"/>
<line x1="261.7" y1="435.7" x2="302.3" y2="472.4" stroke="#719db5" stroke-width="1.5" />
<line x1="305.4" y1="439" x2="257.8" y2="466.8" stroke="#719db5" stroke-width="1.5" />
<line x1="257.6" y1="472.2" x2="302.8" y2="474.6" stroke="#719db5" stroke-width="2" />
<rect x="276.2" y="461.8" width="8.2" height="12.6" fill="#6f9bb3" rx="0.8"/>
<rect x="273.4" y="462.8" width="15.4" height="1.6" fill="#719db5" />
<rect x="273" y="468.2" width="15.8" height="1.7" fill="#719db5" />
<rect x="277.6" y="465" width="4" height="2.6" fill="#a9c4d3" />
<rect x="200.9" y="504.4" width="9.4" height="6.8" fill="#cdcedb" rx="1.2"/>
<rect x="202.9" y="505.7" width="2.2" height="2.6" fill="#f4f4f5" />
<rect x="206.3" y="506.1" width="2.2" height="2.8" fill="#f4f4f5" />
<line x1="201.5" y1="509.3" x2="209.9" y2="509.3" stroke="#a9abae" stroke-width="0.7" />
<line x1="205.5" y1="504.7" x2="205.5" y2="510.7" stroke="#b4b6b9" stroke-width="0.6" />
<rect x="214.3" y="504.4" width="9.4" height="6.8" fill="#cdcedb" rx="1.2"/>
<rect x="216.3" y="505.7" width="2.2" height="2.6" fill="#f4f4f5" />
<rect x="219.7" y="506.1" width="2.2" height="2.8" fill="#f4f4f5" />
<line x1="214.9" y1="509.3" x2="223.3" y2="509.3" stroke="#a9abae" stroke-width="0.7" />
<line x1="218.9" y1="504.7" x2="218.9" y2="510.7" stroke="#b4b6b9" stroke-width="0.6" />
<rect x="228.7" y="504.4" width="9.4" height="6.8" fill="#cdcedb" rx="1.2"/>
<rect x="230.7" y="505.7" width="2.2" height="2.6" fill="#f4f4f5" />
<rect x="234.1" y="506.1" width="2.2" height="2.8" fill="#f4f4f5" />
<line x1="229.3" y1="509.3" x2="237.7" y2="509.3" stroke="#a9abae" stroke-width="0.7" />
<line x1="233.3" y1="504.7" x2="233.3" y2="510.7" stroke="#b4b6b9" stroke-width="0.6" />
<rect x="245" y="504.4" width="9.4" height="6.8" fill="#cdcedb" rx="1.2"/>
<rect x="247" y="505.7" width="2.2" height="2.6" fill="#f4f4f5" />
<rect x="250.4" y="506.1" width="2.2" height="2.8" fill="#f4f4f5" />
<line x1="245.6" y1="509.3" x2="254" y2="509.3" stroke="#a9abae" stroke-width="0.7" />
<line x1="249.6" y1="504.7" x2="249.6" y2="510.7" stroke="#b4b6b9" stroke-width="0.6" />
<rect x="258.9" y="504.4" width="9.4" height="6.8" fill="#cdcedb" rx="1.2"/>
<rect x="260.9" y="505.7" width="2.2" height="2.6" fill="#f4f4f5" />
<rect x="264.3" y="506.1" width="2.2" height="2.8" fill="#f4f4f5" />
<line x1="259.5" y1="509.3" x2="267.9" y2="509.3" stroke="#a9abae" stroke-width="0.7" />
<line x1="263.5" y1="504.7" x2="263.5" y2="510.7" stroke="#b4b6b9" stroke-width="0.6" />
<rect x="202.1" y="514.4" width="9.4" height="6.8" fill="#cdcedb" rx="1.2"/>
<rect x="204.1" y="515.7" width="2.2" height="2.6" fill="#f4f4f5" />
<rect x="207.5" y="516.1" width="2.2" height="2.8" fill="#f4f4f5" />
<line x1="202.7" y1="519.3" x2="211.1" y2="519.3" stroke="#a9abae" stroke-width="0.7" />
<line x1="206.7" y1="514.7" x2="206.7" y2="520.7" stroke="#b4b6b9" stroke-width="0.6" />
<rect x="213.1" y="514.4" width="9.4" height="6.8" fill="#cdcedb" rx="1.2"/>
<rect x="215.1" y="515.7" width="2.2" height="2.6" fill="#f4f4f5" />
<rect x="218.5" y="516.1" width="2.2" height="2.8" fill="#f4f4f5" />
<line x1="213.7" y1="519.3" x2="222.1" y2="519.3" stroke="#a9abae" stroke-width="0.7" />
<line x1="217.7" y1="514.7" x2="217.7" y2="520.7" stroke="#b4b6b9" stroke-width="0.6" />
<rect x="229.9" y="514.4" width="9.4" height="6.8" fill="#cdcedb" rx="1.2"/>
<rect x="231.9" y="515.7" width="2.2" height="2.6" fill="#f4f4f5" />
<rect x="235.3" y="516.1" width="2.2" height="2.8" fill="#f4f4f5" />
<line x1="230.5" y1="519.3" x2="238.9" y2="519.3" stroke="#a9abae" stroke-width="0.7" />
<line x1="234.5" y1="514.7" x2="234.5" y2="520.7" stroke="#b4b6b9" stroke-width="0.6" />
<rect x="243.8" y="514.4" width="9.4" height="6.8" fill="#cdcedb" rx="1.2"/>
<rect x="245.8" y="515.7" width="2.2" height="2.6" fill="#f4f4f5" />
<rect x="249.2" y="516.1" width="2.2" height="2.8" fill="#f4f4f5" />
<line x1="244.4" y1="519.3" x2="252.8" y2="519.3" stroke="#a9abae" stroke-width="0.7" />
<line x1="248.4" y1="514.7" x2="248.4" y2="520.7" stroke="#b4b6b9" stroke-width="0.6" />
<rect x="260.1" y="514.4" width="9.4" height="6.8" fill="#cdcedb" rx="1.2"/>
<rect x="262.1" y="515.7" width="2.2" height="2.6" fill="#f4f4f5" />
<rect x="265.5" y="516.1" width="2.2" height="2.8" fill="#f4f4f5" />
<line x1="260.7" y1="519.3" x2="269.1" y2="519.3" stroke="#a9abae" stroke-width="0.7" />
<line x1="264.7" y1="514.7" x2="264.7" y2="520.7" stroke="#b4b6b9" stroke-width="0.6" />
<rect x="200.9" y="523.8" width="9.4" height="6.8" fill="#cdcedb" rx="1.2"/>
<rect x="202.9" y="525.1" width="2.2" height="2.6" fill="#f4f4f5" />
<rect x="206.3" y="525.5" width="2.2" height="2.8" fill="#f4f4f5" />
<line x1="201.5" y1="528.7" x2="209.9" y2="528.7" stroke="#a9abae" stroke-width="0.7" />
<line x1="205.5" y1="524.1" x2="205.5" y2="530.1" stroke="#b4b6b9" stroke-width="0.6" />
<rect x="214.3" y="523.8" width="9.4" height="6.8" fill="#cdcedb" rx="1.2"/>
<rect x="216.3" y="525.1" width="2.2" height="2.6" fill="#f4f4f5" />
<rect x="219.7" y="525.5" width="2.2" height="2.8" fill="#f4f4f5" />
<line x1="214.9" y1="528.7" x2="223.3" y2="528.7" stroke="#a9abae" stroke-width="0.7" />
<line x1="218.9" y1="524.1" x2="218.9" y2="530.1" stroke="#b4b6b9" stroke-width="0.6" />
<rect x="228.7" y="523.8" width="9.4" height="6.8" fill="#cdcedb" rx="1.2"/>
<rect x="230.7" y="525.1" width="2.2" height="2.6" fill="#f4f4f5" />
<rect x="234.1" y="525.5" width="2.2" height="2.8" fill="#f4f4f5" />
<line x1="229.3" y1="528.7" x2="237.7" y2="528.7" stroke="#a9abae" stroke-width="0.7" />
<line x1="233.3" y1="524.1" x2="233.3" y2="530.1" stroke="#b4b6b9" stroke-width="0.6" />
<rect x="245" y="523.8" width="9.4" height="6.8" fill="#cdcedb" rx="1.2"/>
<rect x="247" y="525.1" width="2.2" height="2.6" fill="#f4f4f5" />
<rect x="250.4" y="525.5" width="2.2" height="2.8" fill="#f4f4f5" />
<line x1="245.6" y1="528.7" x2="254" y2="528.7" stroke="#a9abae" stroke-width="0.7" />
<line x1="249.6" y1="524.1" x2="249.6" y2="530.1" stroke="#b4b6b9" stroke-width="0.6" />
<rect x="258.9" y="523.8" width="9.4" height="6.8" fill="#cdcedb" rx="1.2"/>
<rect x="260.9" y="525.1" width="2.2" height="2.6" fill="#f4f4f5" />
<rect x="264.3" y="525.5" width="2.2" height="2.8" fill="#f4f4f5" />
<line x1="259.5" y1="528.7" x2="267.9" y2="528.7" stroke="#a9abae" stroke-width="0.7" />
<line x1="263.5" y1="524.1" x2="263.5" y2="530.1" stroke="#b4b6b9" stroke-width="0.6" />
<path d="M301.8 125.8 A295.41 295.41 0 0 1 520.7 119 L502 168.5 A239.14 239.14 0 0 0 322.6 173.7 Z" fill="#5f5e5d"/>
<path d="M301.8 125.8 A295.41 295.41 0 0 1 520.7 119 L517.43 127.66 A285.55 285.55 0 0 0 305.44 134.18 Z" fill="#929291"/>
<path d="M301.8 125.8 A295.41 295.41 0 0 1 520.7 119 L519.3 122.71 A291.18 291.18 0 0 0 303.36 129.39 Z" fill="#a7a7a6"/>
<path d="M310.12 144.96 A272.89 272.89 0 0 1 513.22 138.8 L509.11 149.69 A260.51 260.51 0 0 0 314.7 155.5 Z" fill="#8a8ba1"/>
<path d="M310.12 144.96 A272.89 272.89 0 0 1 513.22 138.8 L509.11 149.69 A260.51 260.51 0 0 0 314.7 155.5 Z" fill="url(#speck)"/>
<path d="M306.06 135.62 A283.86 283.86 0 0 1 516.87 129.15 L512.94 139.54 A272.04 272.04 0 0 0 310.43 145.68 Z" fill="#5d5c5c"/>
<path d="M308.25 140.65 A277.95 277.95 0 0 1 514.9 134.34" fill="none" stroke="#c0bdb8" stroke-width="10.38" stroke-dasharray="1.32 1.48"/>
<path d="M305.19 139.12 A280.79 280.79 0 0 1 517.91 132.61" fill="none" stroke="#4a4947" stroke-width="1"/>
<path d="M307.28 143.95 A275.12 275.12 0 0 1 516.02 137.6" fill="none" stroke="#4a4947" stroke-width="1"/>
<path d="M314.38 154.78 A261.35 261.35 0 0 1 509.39 148.95 L505.46 159.34 A249.54 249.54 0 0 0 318.75 164.84 Z" fill="#5d5c5c"/>
<path d="M316.57 159.81 A255.45 255.45 0 0 1 507.42 154.14" fill="none" stroke="#c0bdb8" stroke-width="10.38" stroke-dasharray="1.32 1.48"/>
<path d="M313.51 158.29 A258.28 258.28 0 0 1 510.43 152.42" fill="none" stroke="#4a4947" stroke-width="1"/>
<path d="M315.61 163.11 A252.61 252.61 0 0 1 508.54 157.41" fill="none" stroke="#4a4947" stroke-width="1"/>
<path d="M320 167.71 A246.17 246.17 0 0 1 504.34 162.31 L502 168.5 A239.14 239.14 0 0 0 322.6 173.7 Z" fill="#a0a09f"/>
<path d="M321.66 171.54 A241.67 241.67 0 0 1 502.84 166.27 L502 168.5 A239.14 239.14 0 0 0 322.6 173.7 Z" fill="#b4b4b3"/>
<rect x="-2.6" y="-1.4" width="5.2" height="2.8" rx="0.8" fill="#5b5855" transform="translate(515.85 131.85) rotate(20.07)"/>
<rect x="-2.6" y="-1.4" width="5.2" height="2.8" rx="0.8" fill="#5b5855" transform="translate(309.3 143.06) rotate(-23.59)"/>
<rect x="-2.6" y="-1.4" width="5.2" height="2.8" rx="0.8" fill="#5b5855" transform="translate(508.37 151.65) rotate(20.22)"/>
<rect x="-2.6" y="-1.4" width="5.2" height="2.8" rx="0.8" fill="#5b5855" transform="translate(317.62 162.22) rotate(-23.65)"/>
<path d="M298.3 200.3 A273.6 273.6 0 0 1 520 196.1 L501.1 243.3 A261.92 261.92 0 0 0 317.8 247.5 Z" fill="#5f5e5d"/>
<path d="M298.3 200.3 A273.6 273.6 0 0 1 520 196.1 L516.69 204.36 A270.73 270.73 0 0 0 301.71 208.56 Z" fill="#929291"/>
<path d="M298.3 200.3 A273.6 273.6 0 0 1 520 196.1 L518.58 199.64 A272.34 272.34 0 0 0 299.76 203.84 Z" fill="#a7a7a6"/>
<path d="M306.1 219.18 A267.45 267.45 0 0 1 512.44 214.98 L508.28 225.36 A264.79 264.79 0 0 0 310.39 229.56 Z" fill="#8a8ba1"/>
<path d="M306.1 219.18 A267.45 267.45 0 0 1 512.44 214.98 L508.28 225.36 A264.79 264.79 0 0 0 310.39 229.56 Z" fill="url(#speck)"/>
<path d="M302.3 209.98 A270.26 270.26 0 0 1 516.13 205.78 L512.16 215.69 A267.25 267.25 0 0 0 306.39 219.89 Z" fill="#5d5c5c"/>
<path d="M304.35 214.93 A268.7 268.7 0 0 1 514.14 210.73" fill="none" stroke="#c0bdb8" stroke-width="10.76" stroke-dasharray="1.32 1.48"/>
<path d="M301.36 213.47 A269.44 269.44 0 0 1 517.13 209.19" fill="none" stroke="#4a4947" stroke-width="1"/>
<path d="M303.32 218.21 A267.99 267.99 0 0 1 515.23 213.93" fill="none" stroke="#4a4947" stroke-width="1"/>
<path d="M310.1 228.86 A264.95 264.95 0 0 1 508.57 224.66 L504.6 234.57 A263 263 0 0 0 314.19 238.77 Z" fill="#5d5c5c"/>
<path d="M312.14 233.81 A263.89 263.89 0 0 1 506.58 229.61" fill="none" stroke="#c0bdb8" stroke-width="10.76" stroke-dasharray="1.32 1.48"/>
<path d="M309.14 232.3 A264.38 264.38 0 0 1 509.59 228.02" fill="none" stroke="#4a4947" stroke-width="1"/>
<path d="M311.1 237.05 A263.44 263.44 0 0 1 507.69 232.76" fill="none" stroke="#4a4947" stroke-width="1"/>
<path d="M315.36 241.6 A262.58 262.58 0 0 1 503.46 237.4 L501.1 243.3 A261.92 261.92 0 0 0 317.8 247.5 Z" fill="#a0a09f"/>
<path d="M316.92 245.38 A262.12 262.12 0 0 1 501.95 241.18 L501.1 243.3 A261.92 261.92 0 0 0 317.8 247.5 Z" fill="#b4b4b3"/>
<rect x="-2.6" y="-1.4" width="5.2" height="2.8" rx="0.8" fill="#5b5855" transform="translate(515.09 208.35) rotate(22)"/>
<rect x="-2.6" y="-1.4" width="5.2" height="2.8" rx="0.8" fill="#5b5855" transform="translate(305.33 217.31) rotate(-23.98)"/>
<rect x="-2.6" y="-1.4" width="5.2" height="2.8" rx="0.8" fill="#5b5855" transform="translate(507.53 227.23) rotate(20.58)"/>
<rect x="-2.6" y="-1.4" width="5.2" height="2.8" rx="0.8" fill="#5b5855" transform="translate(313.13 236.19) rotate(-22.68)"/>
<path d="M305.3 277.8 A282.24 282.24 0 0 1 520 280 L502.5 325 A273.65 273.65 0 0 0 322 324.4 Z" fill="#5f5e5d"/>
<path d="M305.3 277.8 A282.24 282.24 0 0 1 520 280 L516.94 287.88 A279.92 279.92 0 0 0 308.22 285.95 Z" fill="#929291"/>
<path d="M305.3 277.8 A282.24 282.24 0 0 1 520 280 L518.69 283.38 A281.21 281.21 0 0 0 306.55 281.3 Z" fill="#a7a7a6"/>
<path d="M311.98 296.44 A277.34 277.34 0 0 1 513 298 L509.15 307.9 A275.37 275.37 0 0 0 315.65 306.69 Z" fill="#8a8ba1"/>
<path d="M311.98 296.44 A277.34 277.34 0 0 1 513 298 L509.15 307.9 A275.37 275.37 0 0 0 315.65 306.69 Z" fill="url(#speck)"/>
<path d="M308.72 287.35 A279.54 279.54 0 0 1 516.41 289.23 L512.74 298.68 A277.19 277.19 0 0 0 312.23 297.14 Z" fill="#5d5c5c"/>
<path d="M310.48 292.25 A278.31 278.31 0 0 1 514.58 293.95" fill="none" stroke="#c0bdb8" stroke-width="10.26" stroke-dasharray="1.32 1.48"/>
<path d="M307.59 290.7 A278.89 278.89 0 0 1 517.49 292.52" fill="none" stroke="#4a4947" stroke-width="1"/>
<path d="M309.27 295.39 A277.76 277.76 0 0 1 515.73 297.04" fill="none" stroke="#4a4947" stroke-width="1"/>
<path d="M315.4 305.99 A275.49 275.49 0 0 1 509.41 307.23 L505.74 316.68 A274.18 274.18 0 0 0 318.91 315.78 Z" fill="#5d5c5c"/>
<path d="M317.16 310.89 A274.75 274.75 0 0 1 507.57 311.95" fill="none" stroke="#c0bdb8" stroke-width="10.26" stroke-dasharray="1.32 1.48"/>
<path d="M314.25 309.3 A275.09 275.09 0 0 1 510.51 310.47" fill="none" stroke="#4a4947" stroke-width="1"/>
<path d="M315.93 313.99 A274.46 274.46 0 0 1 508.75 314.99" fill="none" stroke="#4a4947" stroke-width="1"/>
<path d="M319.91 318.57 A273.94 273.94 0 0 1 504.69 319.38 L502.5 325 A273.65 273.65 0 0 0 322 324.4 Z" fill="#a0a09f"/>
<path d="M321.25 322.3 A273.72 273.72 0 0 1 503.29 322.98 L502.5 325 A273.65 273.65 0 0 0 322 324.4 Z" fill="#b4b4b3"/>
<rect x="-2.6" y="-1.4" width="5.2" height="2.8" rx="0.8" fill="#5b5855" transform="translate(515.46 291.68) rotate(22.15)"/>
<rect x="-2.6" y="-1.4" width="5.2" height="2.8" rx="0.8" fill="#5b5855" transform="translate(311.32 294.59) rotate(-20.91)"/>
<rect x="-2.6" y="-1.4" width="5.2" height="2.8" rx="0.8" fill="#5b5855" transform="translate(508.46 309.68) rotate(20.78)"/>
<rect x="-2.6" y="-1.4" width="5.2" height="2.8" rx="0.8" fill="#5b5855" transform="translate(318 313.23) rotate(-19.81)"/>
<path d="M299.7 363.9 A284.69 284.69 0 0 1 520.5 366.7 L502.5 412.5 A295.91 295.91 0 0 0 315 411 Z" fill="#5f5e5d"/>
<path d="M299.7 363.9 A284.69 284.69 0 0 1 520.5 366.7 L517.35 374.71 A284.99 284.99 0 0 0 302.38 372.14 Z" fill="#929291"/>
<path d="M299.7 363.9 A284.69 284.69 0 0 1 520.5 366.7 L519.15 370.13 A284.76 284.76 0 0 0 300.85 367.43 Z" fill="#a7a7a6"/>
<path d="M305.82 382.74 A286.18 286.18 0 0 1 513.3 385.02 L509.34 395.1 A288.45 288.45 0 0 0 309.19 393.1 Z" fill="#8a8ba1"/>
<path d="M305.82 382.74 A286.18 286.18 0 0 1 513.3 385.02 L509.34 395.1 A288.45 288.45 0 0 0 309.19 393.1 Z" fill="url(#speck)"/>
<path d="M302.84 373.56 A285.09 285.09 0 0 1 516.81 376.09 L513.03 385.71 A286.3 286.3 0 0 0 306.05 383.45 Z" fill="#5d5c5c"/>
<path d="M304.44 378.5 A285.58 285.58 0 0 1 514.92 380.9" fill="none" stroke="#c0bdb8" stroke-width="10.63" stroke-dasharray="1.32 1.48"/>
<path d="M301.62 376.93 A285.32 285.32 0 0 1 517.86 379.44" fill="none" stroke="#4a4947" stroke-width="1"/>
<path d="M303.16 381.66 A285.9 285.9 0 0 1 516.05 384.04" fill="none" stroke="#4a4947" stroke-width="1"/>
<path d="M308.96 392.4 A288.25 288.25 0 0 1 509.61 394.41 L505.83 404.03 A291.62 291.62 0 0 0 312.17 402.29 Z" fill="#5d5c5c"/>
<path d="M310.56 397.34 A289.76 289.76 0 0 1 507.72 399.22" fill="none" stroke="#c0bdb8" stroke-width="10.63" stroke-dasharray="1.32 1.48"/>
<path d="M307.72 395.71 A288.99 288.99 0 0 1 510.68 397.69" fill="none" stroke="#4a4947" stroke-width="1"/>
<path d="M309.26 400.44 A290.6 290.6 0 0 1 508.87 402.29" fill="none" stroke="#4a4947" stroke-width="1"/>
<path d="M313.09 405.11 A292.85 292.85 0 0 1 504.75 406.77 L502.5 412.5 A295.91 295.91 0 0 0 315 411 Z" fill="#a0a09f"/>
<path d="M314.31 408.88 A294.73 294.73 0 0 1 503.31 410.44 L502.5 412.5 A295.91 295.91 0 0 0 315 411 Z" fill="#b4b4b3"/>
<rect x="-2.6" y="-1.4" width="5.2" height="2.8" rx="0.8" fill="#5b5855" transform="translate(515.83 378.59) rotate(22.49)"/>
<rect x="-2.6" y="-1.4" width="5.2" height="2.8" rx="0.8" fill="#5b5855" transform="translate(305.21 380.87) rotate(-20.78)"/>
<rect x="-2.6" y="-1.4" width="5.2" height="2.8" rx="0.8" fill="#5b5855" transform="translate(508.63 396.91) rotate(20.68)"/>
<rect x="-2.6" y="-1.4" width="5.2" height="2.8" rx="0.8" fill="#5b5855" transform="translate(311.33 399.71) rotate(-19.12)"/>
<polygon points="541.6,103.2 656.4,101.6 660.9,111.94 538.6,111.94" fill="#9c9c9b" />
<polygon points="541.6,103.2 656.4,101.6 659.2,106.22 540.1,106.77" fill="#b4b4b3" />
<rect x="538.6" y="111.94" width="121.8" height="36.45" fill="#5f5e5d" />
<rect x="539.1" y="124.45" width="120.8" height="11.42" fill="#8a8ba1" />
<rect x="539.1" y="124.45" width="120.8" height="11.42" fill="url(#speck)" />
<rect x="539.1" y="113.3" width="120.8" height="11.7" fill="#5d5c5c" />
<line x1="539.4" y1="119.14" x2="659.6" y2="119.14" stroke="#c0bdb8" stroke-width="11.1" stroke-dasharray="1.32 1.48" stroke-dashoffset="0"/>
<line x1="536.9" y1="116.34" x2="662.1" y2="116.34" stroke="#4a4947" stroke-width="1" />
<line x1="536.9" y1="121.95" x2="662.1" y2="121.95" stroke="#4a4947" stroke-width="1" />
<rect x="539.1" y="135.33" width="120.8" height="11.7" fill="#5d5c5c" />
<line x1="539.4" y1="141.18" x2="659.6" y2="141.18" stroke="#c0bdb8" stroke-width="11.1" stroke-dasharray="1.32 1.48" stroke-dashoffset="1"/>
<line x1="536.9" y1="138.37" x2="662.1" y2="138.37" stroke="#4a4947" stroke-width="1" />
<line x1="536.9" y1="143.98" x2="662.1" y2="143.98" stroke="#4a4947" stroke-width="1" />
<rect x="539.6" y="147.57" width="120.3" height="4.08" fill="#6b6a69" />
<rect x="539.6" y="151.38" width="120.3" height="4.62" fill="#a9a9a8" />
<rect x="539.6" y="154.8" width="120.3" height="1.2" fill="#b9b9b8" />
<rect x="535" y="120.65" width="4.6" height="2.8" fill="#5b5855" rx="0.8"/>
<rect x="535" y="142.68" width="4.6" height="2.8" fill="#5b5855" rx="0.8"/>
<rect x="659.4" y="115.04" width="4.6" height="2.8" fill="#5b5855" rx="0.8"/>
<rect x="659.4" y="137.07" width="4.6" height="2.8" fill="#5b5855" rx="0.8"/>
<line x1="558.9" y1="103.2" x2="559.7" y2="106.5" stroke="#8a8a89" stroke-width="0.6" />
<line x1="558.9" y1="152.19" x2="558.5" y2="155.5" stroke="#8d8d8c" stroke-width="0.6" />
<line x1="579.2" y1="103.2" x2="580" y2="106.5" stroke="#8a8a89" stroke-width="0.6" />
<line x1="579.2" y1="152.19" x2="578.8" y2="155.5" stroke="#8d8d8c" stroke-width="0.6" />
<line x1="599.5" y1="103.2" x2="600.3" y2="106.5" stroke="#8a8a89" stroke-width="0.6" />
<line x1="599.5" y1="152.19" x2="599.1" y2="155.5" stroke="#8d8d8c" stroke-width="0.6" />
<line x1="619.8" y1="103.2" x2="620.6" y2="106.5" stroke="#8a8a89" stroke-width="0.6" />
<line x1="619.8" y1="152.19" x2="619.4" y2="155.5" stroke="#8d8d8c" stroke-width="0.6" />
<line x1="640.1" y1="103.2" x2="640.9" y2="106.5" stroke="#8a8a89" stroke-width="0.6" />
<line x1="640.1" y1="152.19" x2="639.7" y2="155.5" stroke="#8d8d8c" stroke-width="0.6" />
<polygon points="581.9,168.6 658.5,167 662.5,177.18 579.4,177.18" fill="#9c9c9b" />
<polygon points="581.9,168.6 658.5,167 661,171.56 580.65,172.09" fill="#b4b4b3" />
<rect x="579.4" y="177.18" width="82.6" height="35.91" fill="#5f5e5d" />
<rect x="579.9" y="189.51" width="81.6" height="11.26" fill="#8a8ba1" />
<rect x="579.9" y="189.51" width="81.6" height="11.26" fill="url(#speck)" />
<rect x="579.9" y="178.52" width="81.6" height="11.52" fill="#5d5c5c" />
<line x1="580.2" y1="184.29" x2="661.2" y2="184.29" stroke="#c0bdb8" stroke-width="10.92" stroke-dasharray="1.32 1.48" stroke-dashoffset="0"/>
<line x1="577.7" y1="181.52" x2="663.7" y2="181.52" stroke="#4a4947" stroke-width="1" />
<line x1="577.7" y1="187.05" x2="663.7" y2="187.05" stroke="#4a4947" stroke-width="1" />
<rect x="579.9" y="200.23" width="81.6" height="11.52" fill="#5d5c5c" />
<line x1="580.2" y1="205.99" x2="661.2" y2="205.99" stroke="#c0bdb8" stroke-width="10.92" stroke-dasharray="1.32 1.48" stroke-dashoffset="1"/>
<line x1="577.7" y1="203.23" x2="663.7" y2="203.23" stroke="#4a4947" stroke-width="1" />
<line x1="577.7" y1="208.76" x2="663.7" y2="208.76" stroke="#4a4947" stroke-width="1" />
<rect x="580.4" y="212.29" width="81.1" height="4.02" fill="#6b6a69" />
<rect x="580.4" y="216.04" width="81.1" height="4.56" fill="#a9a9a8" />
<rect x="580.4" y="219.4" width="81.1" height="1.2" fill="#b9b9b8" />
<rect x="575.8" y="185.75" width="4.6" height="2.8" fill="#5b5855" rx="0.8"/>
<rect x="575.8" y="207.46" width="4.6" height="2.8" fill="#5b5855" rx="0.8"/>
<rect x="661" y="180.22" width="4.6" height="2.8" fill="#5b5855" rx="0.8"/>
<rect x="661" y="201.93" width="4.6" height="2.8" fill="#5b5855" rx="0.8"/>
<line x1="600.05" y1="168.6" x2="600.85" y2="171.82" stroke="#8a8a89" stroke-width="0.6" />
<line x1="600.05" y1="216.85" x2="599.65" y2="220.1" stroke="#8d8d8c" stroke-width="0.6" />
<line x1="620.7" y1="168.6" x2="621.5" y2="171.82" stroke="#8a8a89" stroke-width="0.6" />
<line x1="620.7" y1="216.85" x2="620.3" y2="220.1" stroke="#8d8d8c" stroke-width="0.6" />
<line x1="641.35" y1="168.6" x2="642.15" y2="171.82" stroke="#8a8a89" stroke-width="0.6" />
<line x1="641.35" y1="216.85" x2="640.95" y2="220.1" stroke="#8d8d8c" stroke-width="0.6" />
<polygon points="582.5,231.6 659.9,230 663.9,239.99 580,239.99" fill="#9c9c9b" />
<polygon points="582.5,231.6 659.9,230 662.4,234.47 581.25,235" fill="#b4b4b3" />
<rect x="580" y="239.99" width="83.4" height="35.24" fill="#5f5e5d" />
<rect x="580.5" y="252.09" width="82.4" height="11.05" fill="#8a8ba1" />
<rect x="580.5" y="252.09" width="82.4" height="11.05" fill="url(#speck)" />
<rect x="580.5" y="241.31" width="82.4" height="11.31" fill="#5d5c5c" />
<line x1="580.8" y1="246.96" x2="662.6" y2="246.96" stroke="#c0bdb8" stroke-width="10.71" stroke-dasharray="1.32 1.48" stroke-dashoffset="0"/>
<line x1="578.3" y1="244.25" x2="665.1" y2="244.25" stroke="#4a4947" stroke-width="1" />
<line x1="578.3" y1="249.68" x2="665.1" y2="249.68" stroke="#4a4947" stroke-width="1" />
<rect x="580.5" y="262.61" width="82.4" height="11.31" fill="#5d5c5c" />
<line x1="580.8" y1="268.27" x2="662.6" y2="268.27" stroke="#c0bdb8" stroke-width="10.71" stroke-dasharray="1.32 1.48" stroke-dashoffset="1"/>
<line x1="578.3" y1="265.55" x2="665.1" y2="265.55" stroke="#4a4947" stroke-width="1" />
<line x1="578.3" y1="270.98" x2="665.1" y2="270.98" stroke="#4a4947" stroke-width="1" />
<rect x="581" y="274.45" width="81.9" height="3.95" fill="#6b6a69" />
<rect x="581" y="278.13" width="81.9" height="4.47" fill="#a9a9a8" />
<rect x="581" y="281.4" width="81.9" height="1.2" fill="#b9b9b8" />
<rect x="576.4" y="248.38" width="4.6" height="2.8" fill="#5b5855" rx="0.8"/>
<rect x="576.4" y="269.68" width="4.6" height="2.8" fill="#5b5855" rx="0.8"/>
<rect x="662.4" y="242.95" width="4.6" height="2.8" fill="#5b5855" rx="0.8"/>
<rect x="662.4" y="264.25" width="4.6" height="2.8" fill="#5b5855" rx="0.8"/>
<line x1="600.85" y1="231.6" x2="601.65" y2="234.73" stroke="#8a8a89" stroke-width="0.6" />
<line x1="600.85" y1="278.92" x2="600.45" y2="282.1" stroke="#8d8d8c" stroke-width="0.6" />
<line x1="621.7" y1="231.6" x2="622.5" y2="234.73" stroke="#8a8a89" stroke-width="0.6" />
<line x1="621.7" y1="278.92" x2="621.3" y2="282.1" stroke="#8d8d8c" stroke-width="0.6" />
<line x1="642.55" y1="231.6" x2="643.35" y2="234.73" stroke="#8a8a89" stroke-width="0.6" />
<line x1="642.55" y1="278.92" x2="642.15" y2="282.1" stroke="#8d8d8c" stroke-width="0.6" />
<rect x="650" y="292.4" width="11.4" height="8.6" fill="#b9b9b8" />
<rect x="651.5" y="293.9" width="7.4" height="6.6" fill="#dcdcdb" />
<rect x="652.4" y="343" width="9.6" height="6.4" fill="#b9b9b8" />
<rect x="653.9" y="344.5" width="5.6" height="4.4" fill="#dcdcdb" />
<rect x="533" y="300" width="128.6" height="44" fill="#c4c4c3" />
<rect x="534.6" y="301.8" width="126.5" height="40.4" fill="#76767b" />
<rect x="534.6" y="315.33" width="126.5" height="13.33" fill="#8a8ba1" />
<rect x="534.6" y="315.33" width="126.5" height="13.33" fill="url(#speck)" />
<rect x="535" y="303.21" width="125.7" height="13.33" fill="#55534f" />
<line x1="535.3" y1="309.88" x2="660.4" y2="309.88" stroke="#c0bdb8" stroke-width="12.73" stroke-dasharray="1.32 1.48" stroke-dashoffset="0"/>
<line x1="532.8" y1="306.68" x2="662.9" y2="306.68" stroke="#4a4947" stroke-width="1" />
<line x1="532.8" y1="313.08" x2="662.9" y2="313.08" stroke="#4a4947" stroke-width="1" />
<rect x="535" y="327.45" width="125.7" height="12.93" fill="#55534f" />
<line x1="535.3" y1="333.92" x2="660.4" y2="333.92" stroke="#c0bdb8" stroke-width="12.33" stroke-dasharray="1.32 1.48" stroke-dashoffset="1"/>
<line x1="532.8" y1="330.82" x2="662.9" y2="330.82" stroke="#4a4947" stroke-width="1" />
<line x1="532.8" y1="337.02" x2="662.9" y2="337.02" stroke="#4a4947" stroke-width="1" />
<rect x="531" y="311.78" width="4.6" height="2.8" fill="#5b5855" rx="0.8"/>
<rect x="531" y="335.72" width="4.6" height="2.8" fill="#5b5855" rx="0.8"/>
<rect x="660.1" y="305.38" width="4.6" height="2.8" fill="#5b5855" rx="0.8"/>
<rect x="660.1" y="329.52" width="4.6" height="2.8" fill="#5b5855" rx="0.8"/>
<polygon points="654,380.5 663.6,372.2 664,380.5" fill="#b5b5b4" />
<rect x="652" y="422" width="12.6" height="7.4" fill="#b9b9b8" />
<rect x="653.5" y="423.5" width="8.6" height="5.4" fill="#dcdcdb" />
<rect x="534" y="380" width="130.4" height="43.4" fill="#c4c4c3" />
<rect x="535.6" y="381.8" width="128.3" height="39.8" fill="#76767b" />
<rect x="535.6" y="395.13" width="128.3" height="13.13" fill="#8a8ba1" />
<rect x="535.6" y="395.13" width="128.3" height="13.13" fill="url(#speck)" />
<rect x="536" y="383.19" width="127.5" height="13.13" fill="#55534f" />
<line x1="536.3" y1="389.76" x2="663.2" y2="389.76" stroke="#c0bdb8" stroke-width="12.53" stroke-dasharray="1.32 1.48" stroke-dashoffset="0"/>
<line x1="533.8" y1="386.61" x2="665.7" y2="386.61" stroke="#4a4947" stroke-width="1" />
<line x1="533.8" y1="392.91" x2="665.7" y2="392.91" stroke="#4a4947" stroke-width="1" />
<rect x="536" y="407.07" width="127.5" height="12.74" fill="#55534f" />
<line x1="536.3" y1="413.44" x2="663.2" y2="413.44" stroke="#c0bdb8" stroke-width="12.14" stroke-dasharray="1.32 1.48" stroke-dashoffset="1"/>
<line x1="533.8" y1="410.38" x2="665.7" y2="410.38" stroke="#4a4947" stroke-width="1" />
<line x1="533.8" y1="416.5" x2="665.7" y2="416.5" stroke="#4a4947" stroke-width="1" />
<rect x="532" y="391.61" width="4.6" height="2.8" fill="#5b5855" rx="0.8"/>
<rect x="532" y="415.2" width="4.6" height="2.8" fill="#5b5855" rx="0.8"/>
<rect x="662.9" y="385.31" width="4.6" height="2.8" fill="#5b5855" rx="0.8"/>
<rect x="662.9" y="409.08" width="4.6" height="2.8" fill="#5b5855" rx="0.8"/>
<rect x="347.4" y="440.2" width="123.2" height="38.6" fill="#76767b" />
<rect x="347.4" y="451.97" width="123.2" height="14.28" fill="#8a8ba1" />
<rect x="347.4" y="451.97" width="123.2" height="14.28" fill="url(#speck)" />
<rect x="347.8" y="442.9" width="122.4" height="10.23" fill="#55534f" />
<line x1="348.1" y1="448.02" x2="469.9" y2="448.02" stroke="#c0bdb8" stroke-width="9.63" stroke-dasharray="1.32 1.48" stroke-dashoffset="0"/>
<line x1="345.6" y1="445.56" x2="472.4" y2="445.56" stroke="#4a4947" stroke-width="1" />
<line x1="345.6" y1="450.47" x2="472.4" y2="450.47" stroke="#4a4947" stroke-width="1" />
<rect x="347.8" y="465.1" width="122.4" height="10.81" fill="#55534f" />
<line x1="348.1" y1="470.5" x2="469.9" y2="470.5" stroke="#c0bdb8" stroke-width="10.21" stroke-dasharray="1.32 1.48" stroke-dashoffset="1"/>
<line x1="345.6" y1="467.91" x2="472.4" y2="467.91" stroke="#4a4947" stroke-width="1" />
<line x1="345.6" y1="473.09" x2="472.4" y2="473.09" stroke="#4a4947" stroke-width="1" />
<rect x="343.8" y="449.17" width="4.6" height="2.8" fill="#5b5855" rx="0.8"/>
<rect x="343.8" y="471.79" width="4.6" height="2.8" fill="#5b5855" rx="0.8"/>
<rect x="469.6" y="444.26" width="4.6" height="2.8" fill="#5b5855" rx="0.8"/>
<rect x="469.6" y="466.61" width="4.6" height="2.8" fill="#5b5855" rx="0.8"/>
<rect x="347.4" y="493" width="125.6" height="39" fill="#76767b" />
<rect x="347.4" y="504.89" width="125.6" height="14.43" fill="#8a8ba1" />
<rect x="347.4" y="504.89" width="125.6" height="14.43" fill="url(#speck)" />
<rect x="347.8" y="495.73" width="124.8" height="10.33" fill="#55534f" />
<line x1="348.1" y1="500.9" x2="472.3" y2="500.9" stroke="#c0bdb8" stroke-width="9.73" stroke-dasharray="1.32 1.48" stroke-dashoffset="0"/>
<line x1="345.6" y1="498.42" x2="474.8" y2="498.42" stroke="#4a4947" stroke-width="1" />
<line x1="345.6" y1="503.38" x2="474.8" y2="503.38" stroke="#4a4947" stroke-width="1" />
<rect x="347.8" y="518.15" width="124.8" height="10.92" fill="#55534f" />
<line x1="348.1" y1="523.62" x2="472.3" y2="523.62" stroke="#c0bdb8" stroke-width="10.32" stroke-dasharray="1.32 1.48" stroke-dashoffset="1"/>
<line x1="345.6" y1="520.99" x2="474.8" y2="520.99" stroke="#4a4947" stroke-width="1" />
<line x1="345.6" y1="526.24" x2="474.8" y2="526.24" stroke="#4a4947" stroke-width="1" />
<rect x="343.8" y="502.08" width="4.6" height="2.8" fill="#5b5855" rx="0.8"/>
<rect x="343.8" y="524.94" width="4.6" height="2.8" fill="#5b5855" rx="0.8"/>
<rect x="472" y="497.12" width="4.6" height="2.8" fill="#5b5855" rx="0.8"/>
<rect x="472" y="519.69" width="4.6" height="2.8" fill="#5b5855" rx="0.8"/>
<rect x="514.6" y="440.4" width="43.4" height="39.6" fill="#76767b" />
<rect x="514.6" y="452.48" width="43.4" height="14.65" fill="#8a8ba1" />
<rect x="514.6" y="452.48" width="43.4" height="14.65" fill="url(#speck)" />
<rect x="515" y="443.17" width="42.6" height="10.49" fill="#55534f" />
<line x1="515.3" y1="448.42" x2="557.3" y2="448.42" stroke="#c0bdb8" stroke-width="9.89" stroke-dasharray="1.32 1.48" stroke-dashoffset="0"/>
<line x1="512.8" y1="445.9" x2="559.8" y2="445.9" stroke="#4a4947" stroke-width="1" />
<line x1="512.8" y1="450.94" x2="559.8" y2="450.94" stroke="#4a4947" stroke-width="1" />
<rect x="515" y="465.94" width="42.6" height="11.09" fill="#55534f" />
<line x1="515.3" y1="471.49" x2="557.3" y2="471.49" stroke="#c0bdb8" stroke-width="10.49" stroke-dasharray="1.32 1.48" stroke-dashoffset="1"/>
<line x1="512.8" y1="468.82" x2="559.8" y2="468.82" stroke="#4a4947" stroke-width="1" />
<line x1="512.8" y1="474.15" x2="559.8" y2="474.15" stroke="#4a4947" stroke-width="1" />
<rect x="511" y="449.64" width="4.6" height="2.8" fill="#5b5855" rx="0.8"/>
<rect x="511" y="472.85" width="4.6" height="2.8" fill="#5b5855" rx="0.8"/>
<rect x="557" y="444.6" width="4.6" height="2.8" fill="#5b5855" rx="0.8"/>
<rect x="557" y="467.52" width="4.6" height="2.8" fill="#5b5855" rx="0.8"/>
<rect x="575.6" y="440" width="84.8" height="39.4" fill="#76767b" />
<rect x="575.6" y="452.02" width="84.8" height="14.58" fill="#8a8ba1" />
<rect x="575.6" y="452.02" width="84.8" height="14.58" fill="url(#speck)" />
<rect x="576" y="442.76" width="84" height="10.44" fill="#55534f" />
<line x1="576.3" y1="447.98" x2="659.7" y2="447.98" stroke="#c0bdb8" stroke-width="9.84" stroke-dasharray="1.32 1.48" stroke-dashoffset="0"/>
<line x1="573.8" y1="445.47" x2="662.2" y2="445.47" stroke="#4a4947" stroke-width="1" />
<line x1="573.8" y1="450.48" x2="662.2" y2="450.48" stroke="#4a4947" stroke-width="1" />
<rect x="576" y="465.41" width="84" height="11.03" fill="#55534f" />
<line x1="576.3" y1="470.93" x2="659.7" y2="470.93" stroke="#c0bdb8" stroke-width="10.43" stroke-dasharray="1.32 1.48" stroke-dashoffset="1"/>
<line x1="573.8" y1="468.28" x2="662.2" y2="468.28" stroke="#4a4947" stroke-width="1" />
<line x1="573.8" y1="473.58" x2="662.2" y2="473.58" stroke="#4a4947" stroke-width="1" />
<rect x="572" y="449.18" width="4.6" height="2.8" fill="#5b5855" rx="0.8"/>
<rect x="572" y="472.28" width="4.6" height="2.8" fill="#5b5855" rx="0.8"/>
<rect x="659.4" y="444.17" width="4.6" height="2.8" fill="#5b5855" rx="0.8"/>
<rect x="659.4" y="466.98" width="4.6" height="2.8" fill="#5b5855" rx="0.8"/>
<rect x="573.6" y="493" width="86" height="39" fill="#76767b" />
<rect x="573.6" y="504.89" width="86" height="14.43" fill="#8a8ba1" />
<rect x="573.6" y="504.89" width="86" height="14.43" fill="url(#speck)" />
<rect x="574" y="495.73" width="85.2" height="10.33" fill="#55534f" />
<line x1="574.3" y1="500.9" x2="658.9" y2="500.9" stroke="#c0bdb8" stroke-width="9.73" stroke-dasharray="1.32 1.48" stroke-dashoffset="0"/>
<line x1="571.8" y1="498.42" x2="661.4" y2="498.42" stroke="#4a4947" stroke-width="1" />
<line x1="571.8" y1="503.38" x2="661.4" y2="503.38" stroke="#4a4947" stroke-width="1" />
<rect x="574" y="518.15" width="85.2" height="10.92" fill="#55534f" />
<line x1="574.3" y1="523.62" x2="658.9" y2="523.62" stroke="#c0bdb8" stroke-width="10.32" stroke-dasharray="1.32 1.48" stroke-dashoffset="1"/>
<line x1="571.8" y1="520.99" x2="661.4" y2="520.99" stroke="#4a4947" stroke-width="1" />
<line x1="571.8" y1="526.24" x2="661.4" y2="526.24" stroke="#4a4947" stroke-width="1" />
<rect x="570" y="502.08" width="4.6" height="2.8" fill="#5b5855" rx="0.8"/>
<rect x="570" y="524.94" width="4.6" height="2.8" fill="#5b5855" rx="0.8"/>
<rect x="658.6" y="497.12" width="4.6" height="2.8" fill="#5b5855" rx="0.8"/>
<rect x="658.6" y="519.69" width="4.6" height="2.8" fill="#5b5855" rx="0.8"/>
<polygon points="702.4,103.2 854.6,102 859.6,110.64 698.4,110.64" fill="#8f8f8e" />
<polygon points="702.4,103.2 854.6,102 858,107.67 700,108.27" fill="#a2a2a1" />
<rect x="698.4" y="110.64" width="161.2" height="41.58" fill="#6e6d6c" />
<line x1="699" y1="113.07" x2="859" y2="113.07" stroke="#575655" stroke-width="2.7" stroke-dasharray="1.4 1.4"/>
<rect x="698.9" y="122.79" width="160.2" height="12.42" fill="#8a8ba1" />
<rect x="698.9" y="122.79" width="160.2" height="12.42" fill="url(#speck)" />
<rect x="698.9" y="114.69" width="160.2" height="8.1" fill="#575655" />
<rect x="698.9" y="134.94" width="160.2" height="9.72" fill="#575655" />
<rect x="698.9" y="115.5" width="160.2" height="5.4" fill="#575655" />
<line x1="699.2" y1="118.2" x2="858.8" y2="118.2" stroke="#c9c7c2" stroke-width="4.8" stroke-dasharray="1.32 1.48" stroke-dashoffset="0"/>
<line x1="696.7" y1="116.9" x2="861.3" y2="116.9" stroke="#4a4947" stroke-width="0.8" />
<line x1="696.7" y1="119.5" x2="861.3" y2="119.5" stroke="#4a4947" stroke-width="0.8" />
<rect x="698.9" y="137.64" width="160.2" height="5.4" fill="#575655" />
<line x1="699.2" y1="140.34" x2="858.8" y2="140.34" stroke="#c9c7c2" stroke-width="4.8" stroke-dasharray="1.32 1.48" stroke-dashoffset="1"/>
<line x1="696.7" y1="139.04" x2="861.3" y2="139.04" stroke="#4a4947" stroke-width="0.8" />
<line x1="696.7" y1="141.64" x2="861.3" y2="141.64" stroke="#4a4947" stroke-width="0.8" />
<line x1="699" y1="122.09" x2="859" y2="122.09" stroke="#8a8ba1" stroke-width="1.2" stroke-dasharray="1.4 1.4"/>
<line x1="699" y1="136.02" x2="859" y2="136.02" stroke="#8a8ba1" stroke-width="1.2" stroke-dasharray="1.4 1.4"/>
<line x1="699" y1="146.28" x2="859" y2="146.28" stroke="#757473" stroke-width="2.43" stroke-dasharray="1.4 1.4"/>
<rect x="698.9" y="148.17" width="160.2" height="2.43" fill="#575655" />
<rect x="698.9" y="150.33" width="160.2" height="5.67" fill="#a2a2a1" />
<rect x="694.8" y="118.2" width="4.6" height="2.8" fill="#5b5855" rx="0.8"/>
<rect x="694.8" y="140.34" width="4.6" height="2.8" fill="#5b5855" rx="0.8"/>
<rect x="858.6" y="115.6" width="4.6" height="2.8" fill="#5b5855" rx="0.8"/>
<rect x="858.6" y="137.74" width="4.6" height="2.8" fill="#5b5855" rx="0.8"/>
<line x1="718.55" y1="102.8" x2="719.35" y2="107.4" stroke="#8a8a89" stroke-width="0.6" />
<line x1="738.7" y1="102.8" x2="739.5" y2="107.4" stroke="#8a8a89" stroke-width="0.6" />
<line x1="758.85" y1="102.8" x2="759.65" y2="107.4" stroke="#8a8a89" stroke-width="0.6" />
<line x1="779" y1="102.8" x2="779.8" y2="107.4" stroke="#8a8a89" stroke-width="0.6" />
<line x1="799.15" y1="102.8" x2="799.95" y2="107.4" stroke="#8a8a89" stroke-width="0.6" />
<line x1="819.3" y1="102.8" x2="820.1" y2="107.4" stroke="#8a8a89" stroke-width="0.6" />
<line x1="839.45" y1="102.8" x2="840.25" y2="107.4" stroke="#8a8a89" stroke-width="0.6" />
<polygon points="703.6,169.2 858.4,168 863.4,176.53 699.6,176.53" fill="#929291" />
<polygon points="703.6,169.2 858.4,168 861.8,173.6 701.2,174.2" fill="#a8a8a7" />
<rect x="699.6" y="176.53" width="163.8" height="41.04" fill="#757473" />
<line x1="700.2" y1="178.93" x2="862.8" y2="178.93" stroke="#5b5a59" stroke-width="2.67" stroke-dasharray="1.4 1.4"/>
<rect x="700.1" y="188.52" width="162.8" height="12.26" fill="#8c8da3" />
<rect x="700.1" y="188.52" width="162.8" height="12.26" fill="url(#speck)" />
<rect x="700.1" y="180.53" width="162.8" height="8" fill="#5b5a59" />
<rect x="700.1" y="200.51" width="162.8" height="9.59" fill="#5b5a59" />
<rect x="700.1" y="181.32" width="162.8" height="5.33" fill="#5b5a59" />
<line x1="700.4" y1="183.99" x2="862.6" y2="183.99" stroke="#cdcbc6" stroke-width="4.73" stroke-dasharray="1.32 1.48" stroke-dashoffset="0"/>
<line x1="697.9" y1="182.71" x2="865.1" y2="182.71" stroke="#4a4947" stroke-width="0.8" />
<line x1="697.9" y1="185.27" x2="865.1" y2="185.27" stroke="#4a4947" stroke-width="0.8" />
<rect x="700.1" y="203.18" width="162.8" height="5.33" fill="#5b5a59" />
<line x1="700.4" y1="205.84" x2="862.6" y2="205.84" stroke="#cdcbc6" stroke-width="4.73" stroke-dasharray="1.32 1.48" stroke-dashoffset="1"/>
<line x1="697.9" y1="204.56" x2="865.1" y2="204.56" stroke="#4a4947" stroke-width="0.8" />
<line x1="697.9" y1="207.12" x2="865.1" y2="207.12" stroke="#4a4947" stroke-width="0.8" />
<line x1="700.2" y1="187.83" x2="862.8" y2="187.83" stroke="#8c8da3" stroke-width="1.2" stroke-dasharray="1.4 1.4"/>
<line x1="700.2" y1="201.58" x2="862.8" y2="201.58" stroke="#8c8da3" stroke-width="1.2" stroke-dasharray="1.4 1.4"/>
<line x1="700.2" y1="211.71" x2="862.8" y2="211.71" stroke="#807f7e" stroke-width="2.4" stroke-dasharray="1.4 1.4"/>
<rect x="700.1" y="213.57" width="162.8" height="2.93" fill="#5b5a59" />
<rect x="700.1" y="216.24" width="162.8" height="5.06" fill="#a2a2a1" />
<rect x="696" y="183.97" width="4.6" height="2.8" fill="#5b5855" rx="0.8"/>
<rect x="696" y="205.82" width="4.6" height="2.8" fill="#5b5855" rx="0.8"/>
<rect x="862.4" y="181.41" width="4.6" height="2.8" fill="#5b5855" rx="0.8"/>
<rect x="862.4" y="203.26" width="4.6" height="2.8" fill="#5b5855" rx="0.8"/>
<line x1="720.08" y1="168.8" x2="720.88" y2="173.33" stroke="#8a8a89" stroke-width="0.6" />
<line x1="740.55" y1="168.8" x2="741.35" y2="173.33" stroke="#8a8a89" stroke-width="0.6" />
<line x1="761.02" y1="168.8" x2="761.82" y2="173.33" stroke="#8a8a89" stroke-width="0.6" />
<line x1="781.5" y1="168.8" x2="782.3" y2="173.33" stroke="#8a8a89" stroke-width="0.6" />
<line x1="801.98" y1="168.8" x2="802.77" y2="173.33" stroke="#8a8a89" stroke-width="0.6" />
<line x1="822.45" y1="168.8" x2="823.25" y2="173.33" stroke="#8a8a89" stroke-width="0.6" />
<line x1="842.92" y1="168.8" x2="843.72" y2="173.33" stroke="#8a8a89" stroke-width="0.6" />
<polygon points="704.8,237.6 858.4,236.4 863.4,245.14 700.8,245.14" fill="#8f8f8e" />
<polygon points="704.8,237.6 858.4,236.4 861.8,242.13 702.4,242.73" fill="#acacab" />
<rect x="700.8" y="245.14" width="162.6" height="42.04" fill="#7c7b7a" />
<line x1="701.4" y1="247.59" x2="862.8" y2="247.59" stroke="#5f5e5d" stroke-width="2.73" stroke-dasharray="1.4 1.4"/>
<rect x="701.3" y="257.42" width="161.6" height="12.56" fill="#9092a8" />
<rect x="701.3" y="257.42" width="161.6" height="12.56" fill="url(#speck)" />
<rect x="701.3" y="249.23" width="161.6" height="8.19" fill="#5f5e5d" />
<rect x="701.3" y="269.71" width="161.6" height="9.83" fill="#5f5e5d" />
<rect x="701.3" y="250.05" width="161.6" height="5.46" fill="#5f5e5d" />
<line x1="701.6" y1="252.78" x2="862.6" y2="252.78" stroke="#d2d0cb" stroke-width="4.86" stroke-dasharray="1.32 1.48" stroke-dashoffset="0"/>
<line x1="699.1" y1="251.47" x2="865.1" y2="251.47" stroke="#4a4947" stroke-width="0.8" />
<line x1="699.1" y1="254.09" x2="865.1" y2="254.09" stroke="#4a4947" stroke-width="0.8" />
<rect x="701.3" y="272.44" width="161.6" height="5.46" fill="#5f5e5d" />
<line x1="701.6" y1="275.17" x2="862.6" y2="275.17" stroke="#d2d0cb" stroke-width="4.86" stroke-dasharray="1.32 1.48" stroke-dashoffset="1"/>
<line x1="699.1" y1="273.86" x2="865.1" y2="273.86" stroke="#4a4947" stroke-width="0.8" />
<line x1="699.1" y1="276.48" x2="865.1" y2="276.48" stroke="#4a4947" stroke-width="0.8" />
<line x1="701.4" y1="256.71" x2="862.8" y2="256.71" stroke="#9092a8" stroke-width="1.2" stroke-dasharray="1.4 1.4"/>
<line x1="701.4" y1="270.8" x2="862.8" y2="270.8" stroke="#9092a8" stroke-width="1.2" stroke-dasharray="1.4 1.4"/>
<line x1="701.4" y1="281.17" x2="862.8" y2="281.17" stroke="#9a9998" stroke-width="2.46" stroke-dasharray="1.4 1.4"/>
<rect x="701.3" y="283.08" width="161.6" height="4.37" fill="#5f5e5d" />
<rect x="701.3" y="287.18" width="161.6" height="3.82" fill="#a4a4a3" />
<rect x="697.2" y="252.79" width="4.6" height="2.8" fill="#5b5855" rx="0.8"/>
<rect x="697.2" y="275.18" width="4.6" height="2.8" fill="#5b5855" rx="0.8"/>
<rect x="862.4" y="250.17" width="4.6" height="2.8" fill="#5b5855" rx="0.8"/>
<rect x="862.4" y="272.56" width="4.6" height="2.8" fill="#5b5855" rx="0.8"/>
<line x1="721.12" y1="237.2" x2="721.92" y2="241.86" stroke="#8a8a89" stroke-width="0.6" />
<line x1="741.45" y1="237.2" x2="742.25" y2="241.86" stroke="#8a8a89" stroke-width="0.6" />
<line x1="761.77" y1="237.2" x2="762.57" y2="241.86" stroke="#8a8a89" stroke-width="0.6" />
<line x1="782.1" y1="237.2" x2="782.9" y2="241.86" stroke="#8a8a89" stroke-width="0.6" />
<line x1="802.42" y1="237.2" x2="803.22" y2="241.86" stroke="#8a8a89" stroke-width="0.6" />
<line x1="822.75" y1="237.2" x2="823.55" y2="241.86" stroke="#8a8a89" stroke-width="0.6" />
<line x1="843.08" y1="237.2" x2="843.88" y2="241.86" stroke="#8a8a89" stroke-width="0.6" />
<polygon points="703,307.2 860.2,306 864.2,315.09 700,315.09" fill="#939392" />
<polygon points="703,307.2 860.2,306 863,311.96 701.2,312.56" fill="#bcbcbb" />
<rect x="700" y="315.09" width="164.2" height="43.74" fill="#8b8a89" />
<line x1="700.6" y1="317.64" x2="863.6" y2="317.64" stroke="#676664" stroke-width="2.84" stroke-dasharray="1.4 1.4"/>
<rect x="700.5" y="327.87" width="163.2" height="13.06" fill="#9496ac" />
<rect x="700.5" y="327.87" width="163.2" height="13.06" fill="url(#speck)" />
<rect x="700.5" y="319.35" width="163.2" height="8.52" fill="#676664" />
<rect x="700.5" y="340.65" width="163.2" height="10.22" fill="#676664" />
<rect x="700.5" y="320.2" width="163.2" height="5.68" fill="#676664" />
<line x1="700.8" y1="323.04" x2="863.4" y2="323.04" stroke="#d2d0cb" stroke-width="5.08" stroke-dasharray="1.32 1.48" stroke-dashoffset="0"/>
<line x1="698.3" y1="321.68" x2="865.9" y2="321.68" stroke="#4a4947" stroke-width="0.8" />
<line x1="698.3" y1="324.4" x2="865.9" y2="324.4" stroke="#4a4947" stroke-width="0.8" />
<rect x="700.5" y="343.49" width="163.2" height="5.68" fill="#676664" />
<line x1="700.8" y1="346.33" x2="863.4" y2="346.33" stroke="#d2d0cb" stroke-width="5.08" stroke-dasharray="1.32 1.48" stroke-dashoffset="1"/>
<line x1="698.3" y1="344.96" x2="865.9" y2="344.96" stroke="#4a4947" stroke-width="0.8" />
<line x1="698.3" y1="347.69" x2="865.9" y2="347.69" stroke="#4a4947" stroke-width="0.8" />
<line x1="700.6" y1="327.13" x2="863.6" y2="327.13" stroke="#9496ac" stroke-width="1.2" stroke-dasharray="1.4 1.4"/>
<line x1="700.6" y1="341.78" x2="863.6" y2="341.78" stroke="#9496ac" stroke-width="1.2" stroke-dasharray="1.4 1.4"/>
<line x1="700.6" y1="352.58" x2="863.6" y2="352.58" stroke="#9a9998" stroke-width="2.56" stroke-dasharray="1.4 1.4"/>
<rect x="700.5" y="354.56" width="163.2" height="2.84" fill="#676664" />
<rect x="700.5" y="357.12" width="163.2" height="5.68" fill="#a3a3a2" />
<rect x="696.4" y="323.1" width="4.6" height="2.8" fill="#5b5855" rx="0.8"/>
<rect x="696.4" y="346.39" width="4.6" height="2.8" fill="#5b5855" rx="0.8"/>
<rect x="863.2" y="320.38" width="4.6" height="2.8" fill="#5b5855" rx="0.8"/>
<rect x="863.2" y="343.66" width="4.6" height="2.8" fill="#5b5855" rx="0.8"/>
<line x1="720.52" y1="306.8" x2="721.32" y2="311.68" stroke="#8a8a89" stroke-width="0.6" />
<line x1="741.05" y1="306.8" x2="741.85" y2="311.68" stroke="#8a8a89" stroke-width="0.6" />
<line x1="761.58" y1="306.8" x2="762.38" y2="311.68" stroke="#8a8a89" stroke-width="0.6" />
<line x1="782.1" y1="306.8" x2="782.9" y2="311.68" stroke="#8a8a89" stroke-width="0.6" />
<line x1="802.62" y1="306.8" x2="803.42" y2="311.68" stroke="#8a8a89" stroke-width="0.6" />
<line x1="823.15" y1="306.8" x2="823.95" y2="311.68" stroke="#8a8a89" stroke-width="0.6" />
<line x1="843.68" y1="306.8" x2="844.48" y2="311.68" stroke="#8a8a89" stroke-width="0.6" />
<polygon points="699.6,378 860.6,376.8 863.6,385.63 697.6,385.63" fill="#989897" />
<polygon points="699.6,378 860.6,376.8 862.8,382.6 698.4,383.2" fill="#d0d0cf" />
<rect x="697.6" y="385.63" width="166" height="42.5" fill="#949392" />
<line x1="698.2" y1="388.12" x2="863" y2="388.12" stroke="#6d6c6a" stroke-width="2.76" stroke-dasharray="1.4 1.4"/>
<rect x="698.1" y="398.05" width="165" height="12.7" fill="#989ab0" />
<rect x="698.1" y="398.05" width="165" height="12.7" fill="url(#speck)" />
<rect x="698.1" y="389.77" width="165" height="8.28" fill="#6d6c6a" />
<rect x="698.1" y="410.47" width="165" height="9.94" fill="#6d6c6a" />
<rect x="698.1" y="390.6" width="165" height="5.52" fill="#6d6c6a" />
<line x1="698.4" y1="393.36" x2="862.8" y2="393.36" stroke="#dad8d4" stroke-width="4.92" stroke-dasharray="1.32 1.48" stroke-dashoffset="0"/>
<line x1="695.9" y1="392.04" x2="865.3" y2="392.04" stroke="#4a4947" stroke-width="0.8" />
<line x1="695.9" y1="394.68" x2="865.3" y2="394.68" stroke="#4a4947" stroke-width="0.8" />
<rect x="698.1" y="413.23" width="165" height="5.52" fill="#6d6c6a" />
<line x1="698.4" y1="415.99" x2="862.8" y2="415.99" stroke="#dad8d4" stroke-width="4.92" stroke-dasharray="1.32 1.48" stroke-dashoffset="1"/>
<line x1="695.9" y1="414.67" x2="865.3" y2="414.67" stroke="#4a4947" stroke-width="0.8" />
<line x1="695.9" y1="417.32" x2="865.3" y2="417.32" stroke="#4a4947" stroke-width="0.8" />
<line x1="698.2" y1="397.33" x2="863" y2="397.33" stroke="#989ab0" stroke-width="1.2" stroke-dasharray="1.4 1.4"/>
<line x1="698.2" y1="411.58" x2="863" y2="411.58" stroke="#989ab0" stroke-width="1.2" stroke-dasharray="1.4 1.4"/>
<line x1="698.2" y1="422.06" x2="863" y2="422.06" stroke="#9a9998" stroke-width="2.48" stroke-dasharray="1.4 1.4"/>
<rect x="698.1" y="424" width="165" height="1.93" fill="#6d6c6a" />
<rect x="698.1" y="425.65" width="165" height="6.35" fill="#9e9e9d" />
<rect x="694" y="393.38" width="4.6" height="2.8" fill="#5b5855" rx="0.8"/>
<rect x="694" y="416.02" width="4.6" height="2.8" fill="#5b5855" rx="0.8"/>
<rect x="862.6" y="390.74" width="4.6" height="2.8" fill="#5b5855" rx="0.8"/>
<rect x="862.6" y="413.37" width="4.6" height="2.8" fill="#5b5855" rx="0.8"/>
<line x1="718.35" y1="377.6" x2="719.15" y2="382.32" stroke="#8a8a89" stroke-width="0.6" />
<line x1="739.1" y1="377.6" x2="739.9" y2="382.32" stroke="#8a8a89" stroke-width="0.6" />
<line x1="759.85" y1="377.6" x2="760.65" y2="382.32" stroke="#8a8a89" stroke-width="0.6" />
<line x1="780.6" y1="377.6" x2="781.4" y2="382.32" stroke="#8a8a89" stroke-width="0.6" />
<line x1="801.35" y1="377.6" x2="802.15" y2="382.32" stroke="#8a8a89" stroke-width="0.6" />
<line x1="822.1" y1="377.6" x2="822.9" y2="382.32" stroke="#8a8a89" stroke-width="0.6" />
<line x1="842.85" y1="377.6" x2="843.65" y2="382.32" stroke="#8a8a89" stroke-width="0.6" />
<polygon points="696.6,445.6 861.6,444.4 863.6,453.62 695.6,453.62" fill="#9c9c9b" />
<polygon points="696.6,445.6 861.6,444.4 863.2,450.45 696,451.05" fill="#d6d6d5" />
<rect x="695.6" y="453.62" width="168" height="44.35" fill="#989796" />
<line x1="696.2" y1="456.21" x2="863" y2="456.21" stroke="#706f6d" stroke-width="2.88" stroke-dasharray="1.4 1.4"/>
<rect x="696.1" y="466.58" width="167" height="13.25" fill="#9a9cb2" />
<rect x="696.1" y="466.58" width="167" height="13.25" fill="url(#speck)" />
<rect x="696.1" y="457.94" width="167" height="8.64" fill="#706f6d" />
<rect x="696.1" y="479.54" width="167" height="10.37" fill="#706f6d" />
<rect x="696.1" y="458.8" width="167" height="5.76" fill="#706f6d" />
<line x1="696.4" y1="461.68" x2="862.8" y2="461.68" stroke="#dddbd7" stroke-width="5.16" stroke-dasharray="1.32 1.48" stroke-dashoffset="0"/>
<line x1="693.9" y1="460.3" x2="865.3" y2="460.3" stroke="#4a4947" stroke-width="0.8" />
<line x1="693.9" y1="463.06" x2="865.3" y2="463.06" stroke="#4a4947" stroke-width="0.8" />
<rect x="696.1" y="482.42" width="167" height="5.76" fill="#706f6d" />
<line x1="696.4" y1="485.3" x2="862.8" y2="485.3" stroke="#dddbd7" stroke-width="5.16" stroke-dasharray="1.32 1.48" stroke-dashoffset="1"/>
<line x1="693.9" y1="483.91" x2="865.3" y2="483.91" stroke="#4a4947" stroke-width="0.8" />
<line x1="693.9" y1="486.68" x2="865.3" y2="486.68" stroke="#4a4947" stroke-width="0.8" />
<line x1="696.2" y1="465.83" x2="863" y2="465.83" stroke="#9a9cb2" stroke-width="1.2" stroke-dasharray="1.4 1.4"/>
<line x1="696.2" y1="480.69" x2="863" y2="480.69" stroke="#9a9cb2" stroke-width="1.2" stroke-dasharray="1.4 1.4"/>
<line x1="696.2" y1="491.63" x2="863" y2="491.63" stroke="#9a9998" stroke-width="2.59" stroke-dasharray="1.4 1.4"/>
<rect x="696.1" y="493.65" width="167" height="2.02" fill="#706f6d" />
<rect x="696.1" y="495.38" width="167" height="6.62" fill="#a0a09f" />
<rect x="692" y="461.76" width="4.6" height="2.8" fill="#5b5855" rx="0.8"/>
<rect x="692" y="485.38" width="4.6" height="2.8" fill="#5b5855" rx="0.8"/>
<rect x="862.6" y="459" width="4.6" height="2.8" fill="#5b5855" rx="0.8"/>
<rect x="862.6" y="482.61" width="4.6" height="2.8" fill="#5b5855" rx="0.8"/>
<line x1="714.27" y1="445.2" x2="715.07" y2="450.16" stroke="#8a8a89" stroke-width="0.6" />
<line x1="732.93" y1="445.2" x2="733.73" y2="450.16" stroke="#8a8a89" stroke-width="0.6" />
<line x1="751.6" y1="445.2" x2="752.4" y2="450.16" stroke="#8a8a89" stroke-width="0.6" />
<line x1="770.27" y1="445.2" x2="771.07" y2="450.16" stroke="#8a8a89" stroke-width="0.6" />
<line x1="788.93" y1="445.2" x2="789.73" y2="450.16" stroke="#8a8a89" stroke-width="0.6" />
<line x1="807.6" y1="445.2" x2="808.4" y2="450.16" stroke="#8a8a89" stroke-width="0.6" />
<line x1="826.27" y1="445.2" x2="827.07" y2="450.16" stroke="#8a8a89" stroke-width="0.6" />
<line x1="844.93" y1="445.2" x2="845.73" y2="450.16" stroke="#8a8a89" stroke-width="0.6" />
</svg></body></html>
